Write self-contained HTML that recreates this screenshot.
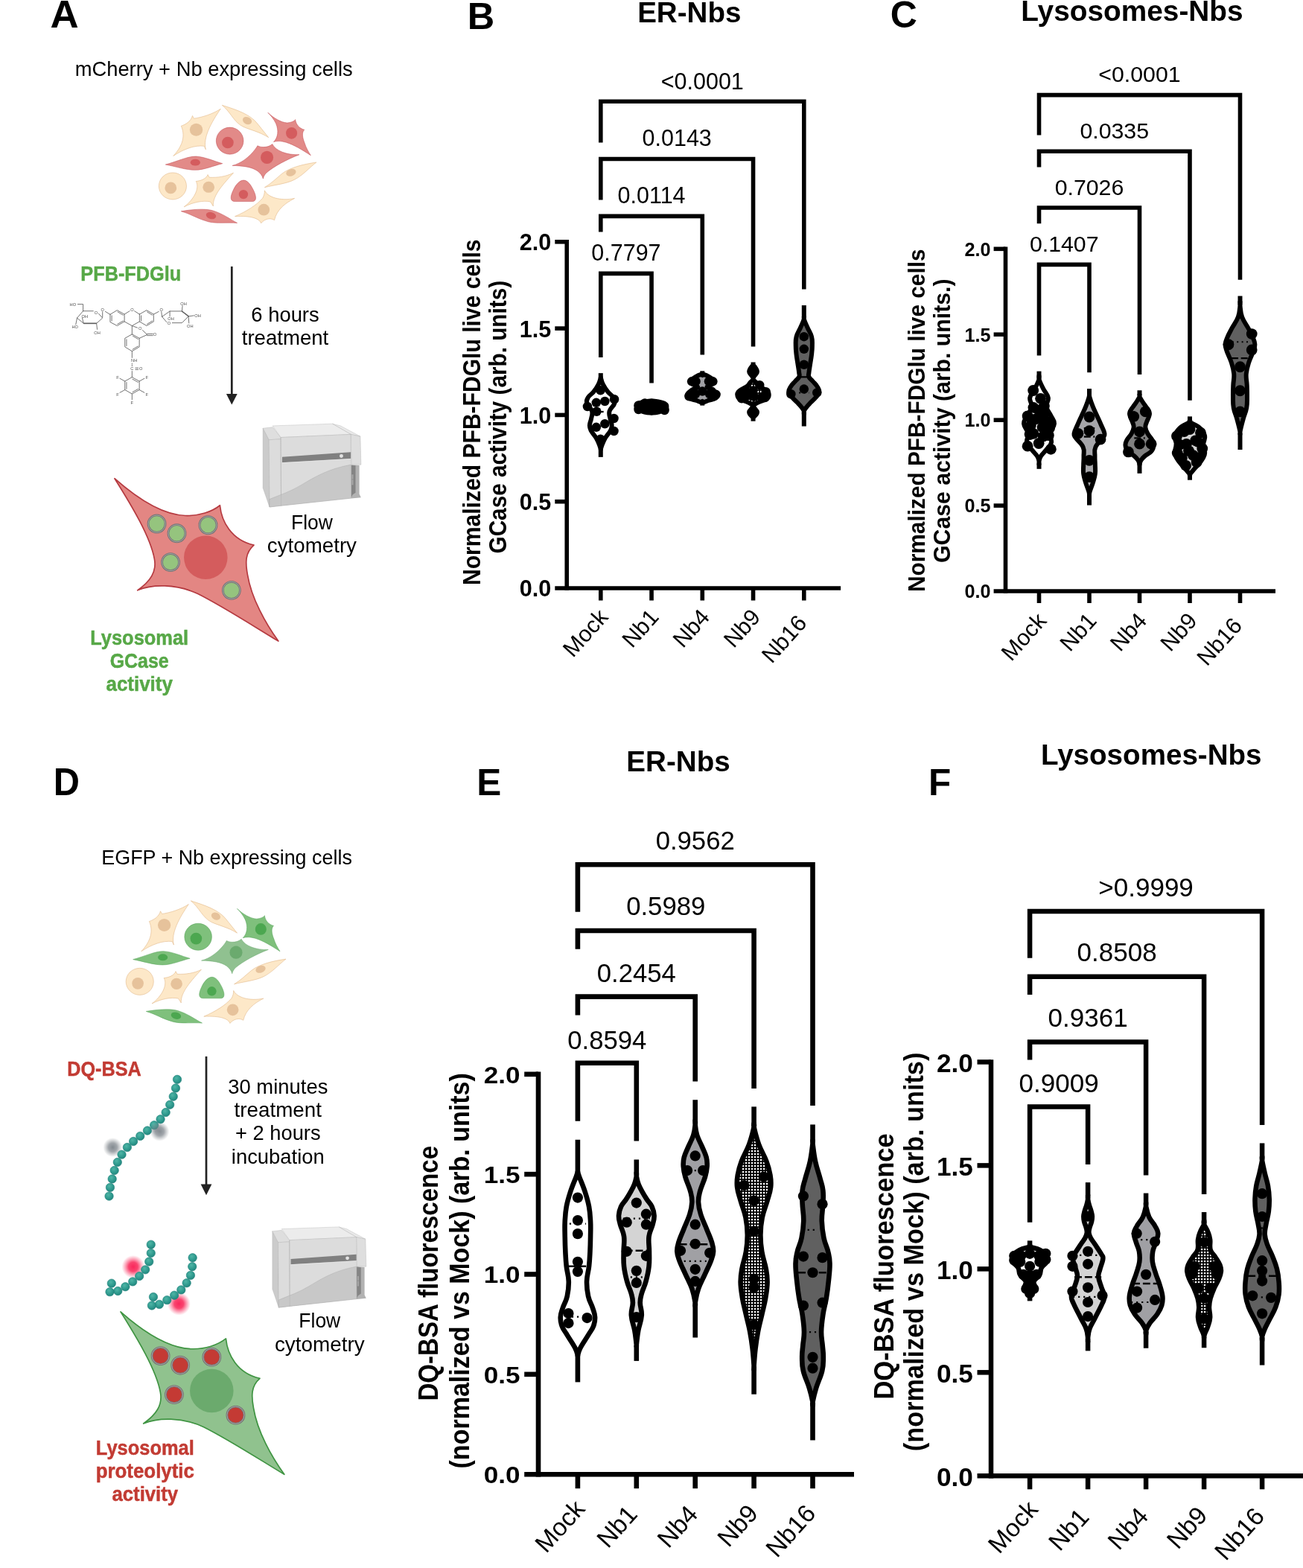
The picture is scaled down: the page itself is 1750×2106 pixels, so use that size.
<!DOCTYPE html>
<html lang="en"><head><meta charset="utf-8"><title>Figure</title>
<style>html,body{margin:0;padding:0;background:#fff}svg{display:block}text{white-space:pre}</style></head><body>
<svg width="1750" height="2106" viewBox="0 0 1750 2106">
<rect width="1750" height="2106" fill="#fff"/>
<defs>
<pattern id="grid" width="4" height="4" patternUnits="userSpaceOnUse"><rect width="4" height="4" fill="#000"/><rect x="0.9" y="0.9" width="2.3" height="2.3" fill="#fff"/></pattern>
</defs>
<g>
<path d="M761.25,322 V792.8" fill="none" stroke="#000" stroke-width="5.6"/>
<line x1="745.3" y1="790" x2="1129.1" y2="790" stroke="#000" stroke-width="5.6" />
<text x="740.3" y="801.4" font-family="'Liberation Sans', sans-serif" font-size="30.6" font-weight="bold" text-anchor="end">0.0</text>
<line x1="745.3" y1="673.7" x2="761.25" y2="673.7" stroke="#000" stroke-width="5.6" />
<text x="740.3" y="685.1" font-family="'Liberation Sans', sans-serif" font-size="30.6" font-weight="bold" text-anchor="end">0.5</text>
<line x1="745.3" y1="557.4" x2="761.25" y2="557.4" stroke="#000" stroke-width="5.6" />
<text x="740.3" y="568.8" font-family="'Liberation Sans', sans-serif" font-size="30.6" font-weight="bold" text-anchor="end">1.0</text>
<line x1="745.3" y1="441.1" x2="761.25" y2="441.1" stroke="#000" stroke-width="5.6" />
<text x="740.3" y="452.5" font-family="'Liberation Sans', sans-serif" font-size="30.6" font-weight="bold" text-anchor="end">1.5</text>
<line x1="745.3" y1="324.8" x2="761.25" y2="324.8" stroke="#000" stroke-width="5.6" />
<text x="740.3" y="336.2" font-family="'Liberation Sans', sans-serif" font-size="30.6" font-weight="bold" text-anchor="end">2.0</text>
<line x1="806.8" y1="790" x2="806.8" y2="806.5" stroke="#000" stroke-width="5.6" />
<line x1="875.05" y1="790" x2="875.05" y2="806.5" stroke="#000" stroke-width="5.6" />
<line x1="943.3" y1="790" x2="943.3" y2="806.5" stroke="#000" stroke-width="5.6" />
<line x1="1011.55" y1="790" x2="1011.55" y2="806.5" stroke="#000" stroke-width="5.6" />
<line x1="1079.8" y1="790" x2="1079.8" y2="806.5" stroke="#000" stroke-width="5.6" />
<text x="818.2" y="830" font-family="'Liberation Sans', sans-serif" font-size="30.5" text-anchor="end" transform="rotate(-48 818.2 830)">Mock</text>
<text x="886.45" y="830" font-family="'Liberation Sans', sans-serif" font-size="30.5" text-anchor="end" transform="rotate(-48 886.45 830)">Nb1</text>
<text x="954.7" y="830" font-family="'Liberation Sans', sans-serif" font-size="30.5" text-anchor="end" transform="rotate(-48 954.7 830)">Nb4</text>
<text x="1022.95" y="830" font-family="'Liberation Sans', sans-serif" font-size="30.5" text-anchor="end" transform="rotate(-48 1022.95 830)">Nb9</text>
<text x="1085.2" y="838" font-family="'Liberation Sans', sans-serif" font-size="30.5" text-anchor="end" transform="rotate(-48 1085.2 838)">Nb16</text>
<text x="644.7" y="553.7" font-family="'Liberation Sans', sans-serif" font-size="33.2" font-weight="bold" text-anchor="middle" transform="rotate(-90 644.7 553.7)" textLength="464.6" lengthAdjust="spacingAndGlyphs">Normalized PFB-FDGlu live cells</text>
<text x="680.3" y="560.2" font-family="'Liberation Sans', sans-serif" font-size="33.2" font-weight="bold" text-anchor="middle" transform="rotate(-90 680.3 560.2)" textLength="366.5" lengthAdjust="spacingAndGlyphs">GCase activity (arb. units)</text>
<text x="925.8" y="29.5" font-family="'Liberation Sans', sans-serif" font-size="38.6" font-weight="bold" text-anchor="middle">ER-Nbs</text>
<text x="627.8" y="38.8" font-family="'Liberation Sans', sans-serif" font-size="50.5" font-weight="bold">B</text>
<path d="M806.8,191.5 V136.3 H1079.8 V388.6" fill="none" stroke="#000" stroke-width="5.6" stroke-linejoin="miter"/>
<text x="943.3" y="120.4" font-family="'Liberation Sans', sans-serif" font-size="30.5" text-anchor="middle">&lt;0.0001</text>
<path d="M806.8,268.6 V213.5 H1011.55 V465.5" fill="none" stroke="#000" stroke-width="5.6" stroke-linejoin="miter"/>
<text x="909.17" y="196" font-family="'Liberation Sans', sans-serif" font-size="30.5" text-anchor="middle">0.0143</text>
<path d="M806.8,311.5 V290.4 H943.3 V476.5" fill="none" stroke="#000" stroke-width="5.6" stroke-linejoin="miter"/>
<text x="875.05" y="273" font-family="'Liberation Sans', sans-serif" font-size="30.5" text-anchor="middle">0.0114</text>
<path d="M806.8,479.9 V367.4 H875.05 V514.6" fill="none" stroke="#000" stroke-width="5.6" stroke-linejoin="miter"/>
<text x="840.92" y="350.1" font-family="'Liberation Sans', sans-serif" font-size="30.5" text-anchor="middle">0.7797</text>
<path d="M806.8,506.85 C807.42,508.76 807.78,512.06 809.78,516.1 C811.79,520.15 813.61,522.8 816.49,526.42 C819.37,530.04 821.9,530.44 823.71,533.64 C825.52,536.84 826.32,538.06 825.26,541.89 C824.19,545.73 819.72,547.95 818.55,552.21 C817.38,556.47 818.94,558.69 819.58,562.53 C820.22,566.36 821.54,567.58 821.65,570.78 C821.75,573.98 821.91,574.37 820.1,578 C818.29,581.62 815.33,584.05 812.88,588.31 C810.43,592.58 809.49,595.46 808.24,598.63 C806.98,601.8 807.1,602.6 806.8,603.63 L806.8,603.63 C806.5,602.6 806.62,601.8 805.36,598.63 C804.11,595.46 803.17,592.58 800.72,588.31 C798.27,584.05 795.31,581.62 793.5,578 C791.69,574.37 791.85,573.98 791.95,570.78 C792.06,567.58 793.38,566.36 794.02,562.53 C794.66,558.69 796.22,556.47 795.05,552.21 C793.88,547.95 789.41,545.73 788.34,541.89 C787.28,538.06 788.08,536.84 789.89,533.64 C791.7,530.44 794.23,530.04 797.11,526.42 C799.99,522.8 801.81,520.15 803.82,516.1 C805.82,512.06 806.18,508.76 806.8,506.85 Z" fill="#ffffff" stroke="#000" stroke-width="6" stroke-linejoin="round"/>
<line x1="806.8" y1="501.15" x2="806.8" y2="507.85" stroke="#000" stroke-width="6" />
<line x1="806.8" y1="602.63" x2="806.8" y2="613.9" stroke="#000" stroke-width="6" />
<line x1="801.64" y1="553.03" x2="811.96" y2="553.03" stroke="#000" stroke-width="2.3" stroke-dasharray="9 3.6"/>
<circle cx="806.49" cy="524.36" r="6.25"/>
<circle cx="800.82" cy="540.86" r="6.25"/>
<circle cx="812.37" cy="539.01" r="6.25"/>
<circle cx="825.06" cy="536.22" r="6.25"/>
<circle cx="788.95" cy="546.02" r="6.25"/>
<circle cx="801.33" cy="552.73" r="6.25"/>
<circle cx="824.54" cy="562.01" r="6.25"/>
<circle cx="812.37" cy="569.23" r="6.25"/>
<circle cx="800.82" cy="573.87" r="6.25"/>
<circle cx="824.54" cy="579.03" r="6.25"/>
<circle cx="806.49" cy="589.86" r="6.25"/>
<path d="M875.05,538.2 C876.91,538.47 880.23,538.61 884.05,539.5 C887.87,540.39 891.21,541.05 893.55,542.5 C895.89,543.95 895.35,544.85 895.35,546.5 C895.35,548.15 895.89,549.05 893.55,550.5 C891.21,551.95 887.87,552.61 884.05,553.5 C880.23,554.39 876.91,554.53 875.05,554.8 L875.05,554.8 C873.19,554.53 869.87,554.39 866.05,553.5 C862.23,552.61 858.89,551.95 856.55,550.5 C854.21,549.05 854.75,548.15 854.75,546.5 C854.75,544.85 854.21,543.95 856.55,542.5 C858.89,541.05 862.23,540.39 866.05,539.5 C869.87,538.61 873.19,538.47 875.05,538.2 Z" fill="#d4d4d4" stroke="#000" stroke-width="6" stroke-linejoin="round"/>
<circle cx="857.55" cy="544.5" r="6.25"/>
<circle cx="866.05" cy="541.5" r="6.25"/>
<circle cx="875.05" cy="542.5" r="6.25"/>
<circle cx="883.05" cy="543.5" r="6.25"/>
<circle cx="891.55" cy="546" r="6.25"/>
<circle cx="892.55" cy="551" r="6.25"/>
<circle cx="883.05" cy="550" r="6.25"/>
<circle cx="875.05" cy="551" r="6.25"/>
<circle cx="866.05" cy="550" r="6.25"/>
<circle cx="857.55" cy="550" r="6.25"/>
<path d="M943.3,503.99 C943.55,503.73 942.57,502.26 944.51,502.74 C946.45,503.23 949.51,504.36 952.69,506.35 C955.88,508.34 959.54,510.13 959.91,512.37 C960.29,514.61 956.61,515.57 954.5,517.18 C952.39,518.8 948.94,518.7 949.69,520.19 C950.43,521.68 955.18,522.29 958.11,524.4 C961.04,526.52 963.39,528.18 963.89,530.42 C964.38,532.66 962.95,533.74 960.52,535.23 C958.08,536.73 955.45,536.52 952.09,537.64 C948.74,538.76 946.09,540.39 944.27,540.65 C942.45,540.91 943.5,539.28 943.3,538.92 L943.3,538.92 C943.1,539.28 944.15,540.91 942.33,540.65 C940.51,540.39 937.86,538.76 934.51,537.64 C931.15,536.52 928.52,536.73 926.08,535.23 C923.65,533.74 922.22,532.66 922.71,530.42 C923.21,528.18 925.56,526.52 928.49,524.4 C931.42,522.29 936.17,521.68 936.91,520.19 C937.66,518.7 934.21,518.8 932.1,517.18 C929.99,515.57 926.31,514.61 926.69,512.37 C927.06,510.13 930.72,508.34 933.91,506.35 C937.09,504.36 940.15,503.23 942.09,502.74 C944.03,502.26 943.05,503.73 943.3,503.99 Z" fill="#a0a0a4" stroke="#000" stroke-width="6" stroke-linejoin="round"/>
<line x1="943.3" y1="498.29" x2="943.3" y2="504.99" stroke="#000" stroke-width="6" />
<line x1="943.3" y1="537.92" x2="943.3" y2="544.62" stroke="#000" stroke-width="6" />
<circle cx="943.3" cy="525.61" r="6.25"/>
<circle cx="925.49" cy="532.23" r="6.25"/>
<circle cx="961.59" cy="529.82" r="6.25"/>
<circle cx="929.1" cy="512.37" r="6.25"/>
<circle cx="957.38" cy="512.37" r="6.25"/>
<circle cx="934.52" cy="512.13" r="6.25"/>
<circle cx="951.96" cy="512.13" r="6.25"/>
<circle cx="933.91" cy="529.22" r="6.25"/>
<circle cx="953.17" cy="529.22" r="6.25"/>
<circle cx="931.51" cy="526.21" r="6.25"/>
<circle cx="955.57" cy="525.61" r="6.25"/>
<path d="M1011.55,492.2 C1011.88,492.14 1012,490.48 1013.12,491.91 C1014.24,493.35 1016.97,496.4 1016.97,499.13 C1016.97,501.87 1014.24,503.04 1013.12,505.15 C1012,507.26 1011.06,507.62 1011.56,509.36 C1012.06,511.1 1013.96,511.71 1015.53,513.57 C1017.1,515.44 1016.65,516.4 1019.14,518.39 C1021.63,520.38 1024.83,521.21 1027.56,523.2 C1030.3,525.19 1031.75,525.53 1032.38,528.01 C1033,530.5 1033.31,532.75 1030.57,535.23 C1027.84,537.72 1022.94,537.93 1019.14,540.05 C1015.33,542.16 1012.61,542.73 1012.16,545.46 C1011.71,548.2 1016.77,550.43 1016.97,553.29 C1017.17,556.15 1014.24,557.92 1013.12,559.3 C1012,560.69 1011.88,559.84 1011.55,559.98 L1011.55,559.98 C1011.22,559.84 1011.1,560.69 1009.98,559.3 C1008.86,557.92 1005.93,556.15 1006.13,553.29 C1006.33,550.43 1011.39,548.2 1010.94,545.46 C1010.49,542.73 1007.77,542.16 1003.96,540.05 C1000.16,537.93 995.26,537.72 992.53,535.23 C989.79,532.75 990.1,530.5 990.72,528.01 C991.35,525.53 992.8,525.19 995.54,523.2 C998.27,521.21 1001.47,520.38 1003.96,518.39 C1006.45,516.4 1006,515.44 1007.57,513.57 C1009.14,511.71 1011.04,511.1 1011.54,509.36 C1012.04,507.62 1011.1,507.26 1009.98,505.15 C1008.86,503.04 1006.13,501.87 1006.13,499.13 C1006.13,496.4 1008.86,493.35 1009.98,491.91 C1011.1,490.48 1011.22,492.14 1011.55,492.2 Z" fill="url(#grid)" stroke="#000" stroke-width="6" stroke-linejoin="round"/>
<line x1="1011.55" y1="486.5" x2="1011.55" y2="493.2" stroke="#000" stroke-width="6" />
<line x1="1011.55" y1="558.98" x2="1011.55" y2="565.68" stroke="#000" stroke-width="6" />
<circle cx="1011.55" cy="499.13" r="6.25"/>
<circle cx="1020.21" cy="517.18" r="6.25"/>
<circle cx="1028.64" cy="526.21" r="6.25"/>
<circle cx="993.74" cy="529.22" r="6.25"/>
<circle cx="1003.37" cy="531.62" r="6.25"/>
<circle cx="1012.99" cy="532.83" r="6.25"/>
<circle cx="1022.62" cy="534.03" r="6.25"/>
<circle cx="1011.55" cy="524.4" r="6.25"/>
<circle cx="1000.96" cy="524.4" r="6.25"/>
<circle cx="1011.55" cy="553.29" r="6.25"/>
<circle cx="996.15" cy="535.23" r="6.25"/>
<circle cx="1027.43" cy="534.03" r="6.25"/>
<path d="M1079.8,425.54 C1079.93,426.57 1079.41,427.52 1080.41,430.54 C1081.41,433.56 1082.63,435.69 1084.62,440.17 C1086.61,444.65 1088.74,447.23 1090.04,452.2 C1091.33,457.18 1090.88,459.26 1090.88,464.24 C1090.88,469.21 1090.58,471.3 1090.04,476.27 C1089.49,481.24 1088.98,483.33 1088.23,488.3 C1087.49,493.28 1086.8,496.61 1086.43,500.34 C1086.05,504.07 1085.31,503.87 1086.43,506.35 C1087.55,508.84 1089.48,509.63 1091.84,512.37 C1094.2,515.11 1096.12,516.48 1097.86,519.59 C1099.6,522.7 1101.01,524.18 1100.27,527.41 C1099.52,530.65 1096.98,532.13 1094.25,535.23 C1091.51,538.34 1089.89,539.22 1087.03,542.45 C1084.17,545.69 1081.9,548.1 1080.41,550.88 C1078.92,553.65 1079.93,554.85 1079.8,555.88 L1079.8,555.88 C1079.67,554.85 1080.68,553.65 1079.19,550.88 C1077.7,548.1 1075.43,545.69 1072.57,542.45 C1069.71,539.22 1068.09,538.34 1065.35,535.23 C1062.62,532.13 1060.08,530.65 1059.33,527.41 C1058.59,524.18 1060,522.7 1061.74,519.59 C1063.48,516.48 1065.4,515.11 1067.76,512.37 C1070.12,509.63 1072.05,508.84 1073.17,506.35 C1074.29,503.87 1073.55,504.07 1073.17,500.34 C1072.8,496.61 1072.11,493.28 1071.37,488.3 C1070.62,483.33 1070.11,481.24 1069.56,476.27 C1069.02,471.3 1068.72,469.21 1068.72,464.24 C1068.72,459.26 1068.27,457.18 1069.56,452.2 C1070.86,447.23 1072.99,444.65 1074.98,440.17 C1076.97,435.69 1078.19,433.56 1079.19,430.54 C1080.19,427.52 1079.67,426.57 1079.8,425.54 Z" fill="#606060" stroke="#000" stroke-width="6" stroke-linejoin="round"/>
<line x1="1079.8" y1="410.08" x2="1079.8" y2="426.54" stroke="#000" stroke-width="6" />
<line x1="1079.8" y1="554.88" x2="1079.8" y2="572.54" stroke="#000" stroke-width="6" />
<line x1="1073.18" y1="527.41" x2="1086.42" y2="527.41" stroke="#000" stroke-width="2" stroke-dasharray="2 4.4"/>
<line x1="1074.99" y1="506.35" x2="1084.61" y2="506.35" stroke="#000" stroke-width="2.3" stroke-dasharray="9 3.6"/>
<circle cx="1079.8" cy="452.2" r="6.25"/>
<circle cx="1079.8" cy="468.81" r="6.25"/>
<circle cx="1079.8" cy="489.75" r="6.25"/>
<circle cx="1079.8" cy="522.6" r="6.25"/>
<circle cx="1062.35" cy="529.22" r="6.25"/>
<circle cx="1097.25" cy="527.41" r="6.25"/>
</g>
<g>
<path d="M1350.5,331.5 V796.8" fill="none" stroke="#000" stroke-width="5.6"/>
<line x1="1334.6" y1="794" x2="1713" y2="794" stroke="#000" stroke-width="5.6" />
<text x="1330.5" y="803.3" font-family="'Liberation Sans', sans-serif" font-size="25.2" font-weight="bold" text-anchor="end">0.0</text>
<line x1="1334.6" y1="679.08" x2="1350.5" y2="679.08" stroke="#000" stroke-width="5.6" />
<text x="1330.5" y="688.38" font-family="'Liberation Sans', sans-serif" font-size="25.2" font-weight="bold" text-anchor="end">0.5</text>
<line x1="1334.6" y1="564.15" x2="1350.5" y2="564.15" stroke="#000" stroke-width="5.6" />
<text x="1330.5" y="573.45" font-family="'Liberation Sans', sans-serif" font-size="25.2" font-weight="bold" text-anchor="end">1.0</text>
<line x1="1334.6" y1="449.23" x2="1350.5" y2="449.23" stroke="#000" stroke-width="5.6" />
<text x="1330.5" y="458.53" font-family="'Liberation Sans', sans-serif" font-size="25.2" font-weight="bold" text-anchor="end">1.5</text>
<line x1="1334.6" y1="334.3" x2="1350.5" y2="334.3" stroke="#000" stroke-width="5.6" />
<text x="1330.5" y="343.6" font-family="'Liberation Sans', sans-serif" font-size="25.2" font-weight="bold" text-anchor="end">2.0</text>
<line x1="1395.5" y1="794" x2="1395.5" y2="810" stroke="#000" stroke-width="5.6" />
<line x1="1463" y1="794" x2="1463" y2="810" stroke="#000" stroke-width="5.6" />
<line x1="1530.5" y1="794" x2="1530.5" y2="810" stroke="#000" stroke-width="5.6" />
<line x1="1598" y1="794" x2="1598" y2="810" stroke="#000" stroke-width="5.6" />
<line x1="1665.5" y1="794" x2="1665.5" y2="810" stroke="#000" stroke-width="5.6" />
<text x="1406.9" y="835" font-family="'Liberation Sans', sans-serif" font-size="30.5" text-anchor="end" transform="rotate(-48 1406.9 835)">Mock</text>
<text x="1474.4" y="835" font-family="'Liberation Sans', sans-serif" font-size="30.5" text-anchor="end" transform="rotate(-48 1474.4 835)">Nb1</text>
<text x="1541.9" y="835" font-family="'Liberation Sans', sans-serif" font-size="30.5" text-anchor="end" transform="rotate(-48 1541.9 835)">Nb4</text>
<text x="1609.4" y="835" font-family="'Liberation Sans', sans-serif" font-size="30.5" text-anchor="end" transform="rotate(-48 1609.4 835)">Nb9</text>
<text x="1669.9" y="841.5" font-family="'Liberation Sans', sans-serif" font-size="30.5" text-anchor="end" transform="rotate(-48 1669.9 841.5)">Nb16</text>
<text x="1241.7" y="564.7" font-family="'Liberation Sans', sans-serif" font-size="30.8" font-weight="bold" text-anchor="middle" transform="rotate(-90 1241.7 564.7)" textLength="460.6" lengthAdjust="spacingAndGlyphs">Normalized PFB-FDGlu live cells</text>
<text x="1276" y="565.2" font-family="'Liberation Sans', sans-serif" font-size="30.8" font-weight="bold" text-anchor="middle" transform="rotate(-90 1276 565.2)" textLength="381.5" lengthAdjust="spacingAndGlyphs">GCase activity (arb. units.)</text>
<text x="1520.5" y="27.8" font-family="'Liberation Sans', sans-serif" font-size="38.8" font-weight="bold" text-anchor="middle">Lysosomes-Nbs</text>
<text x="1195.8" y="37.2" font-family="'Liberation Sans', sans-serif" font-size="50" font-weight="bold">C</text>
<path d="M1395.5,181.6 V127.6 H1665.5 V375.8" fill="none" stroke="#000" stroke-width="5.6" stroke-linejoin="miter"/>
<text x="1530.5" y="110" font-family="'Liberation Sans', sans-serif" font-size="30.3" text-anchor="middle">&lt;0.0001</text>
<path d="M1395.5,224.5 V203.2 H1598 V537.7" fill="none" stroke="#000" stroke-width="5.6" stroke-linejoin="miter"/>
<text x="1496.75" y="185.7" font-family="'Liberation Sans', sans-serif" font-size="30.3" text-anchor="middle">0.0335</text>
<path d="M1395.5,300.2 V279 H1530.5 V503" fill="none" stroke="#000" stroke-width="5.6" stroke-linejoin="miter"/>
<text x="1463" y="262" font-family="'Liberation Sans', sans-serif" font-size="30.3" text-anchor="middle">0.7026</text>
<path d="M1395.5,477.5 V355.4 H1463 V500.2" fill="none" stroke="#000" stroke-width="5.6" stroke-linejoin="miter"/>
<text x="1429.25" y="338.1" font-family="'Liberation Sans', sans-serif" font-size="30.3" text-anchor="middle">0.1407</text>
<path d="M1395.5,505.08 C1395.55,506.12 1394.58,506.56 1395.75,510.08 C1396.92,513.6 1398.68,517.14 1401.16,522.12 C1403.65,527.09 1406.91,529.18 1407.78,534.15 C1408.65,539.13 1404.63,541.21 1405.38,546.19 C1406.12,551.16 1409.2,553.49 1411.39,558.22 C1413.58,562.94 1416.21,564.08 1415.97,569.05 C1415.72,574.02 1411.01,577.06 1410.19,582.29 C1409.37,587.51 1412.99,589.84 1411.99,594.32 C1411,598.8 1408.24,600.22 1405.38,603.95 C1402.52,607.68 1400.15,609.39 1398.16,612.37 C1396.17,615.35 1396.3,616.11 1395.75,618.39 C1395.2,620.66 1395.55,622.35 1395.5,623.39 L1395.5,623.39 C1395.45,622.35 1395.8,620.66 1395.25,618.39 C1394.7,616.11 1394.83,615.35 1392.84,612.37 C1390.85,609.39 1388.48,607.68 1385.62,603.95 C1382.76,600.22 1380,598.8 1379.01,594.32 C1378.01,589.84 1381.63,587.51 1380.81,582.29 C1379.99,577.06 1375.28,574.02 1375.03,569.05 C1374.79,564.08 1377.42,562.94 1379.61,558.22 C1381.8,553.49 1384.88,551.16 1385.62,546.19 C1386.37,541.21 1382.35,539.13 1383.22,534.15 C1384.09,529.18 1387.35,527.09 1389.84,522.12 C1392.32,517.14 1394.08,513.6 1395.25,510.08 C1396.42,506.56 1395.45,506.12 1395.5,505.08 Z" fill="#ffffff" stroke="#000" stroke-width="6" stroke-linejoin="round"/>
<line x1="1395.5" y1="498.65" x2="1395.5" y2="506.08" stroke="#000" stroke-width="6" />
<line x1="1395.5" y1="622.39" x2="1395.5" y2="629.82" stroke="#000" stroke-width="6" />
<circle cx="1387.68" cy="524.52" r="7.4"/>
<circle cx="1397.55" cy="535.35" r="7.4"/>
<circle cx="1395.14" cy="551" r="7.4"/>
<circle cx="1380.1" cy="558.82" r="7.4"/>
<circle cx="1407.17" cy="566.64" r="7.4"/>
<circle cx="1384.31" cy="571.46" r="7.4"/>
<circle cx="1399.95" cy="573.86" r="7.4"/>
<circle cx="1387.92" cy="582.29" r="7.4"/>
<circle cx="1408.38" cy="584.69" r="7.4"/>
<circle cx="1395.14" cy="595.52" r="7.4"/>
<circle cx="1380.1" cy="599.13" r="7.4"/>
<circle cx="1411.38" cy="603.35" r="7.4"/>
<circle cx="1396.34" cy="561.83" r="7.4"/>
<circle cx="1403.56" cy="554.61" r="7.4"/>
<circle cx="1387.92" cy="547.39" r="7.4"/>
<circle cx="1402.36" cy="545.58" r="7.4"/>
<circle cx="1390.33" cy="563.03" r="7.4"/>
<circle cx="1409.58" cy="575.07" r="7.4"/>
<circle cx="1383.11" cy="583.49" r="7.4"/>
<circle cx="1401.16" cy="585.9" r="7.4"/>
<path d="M1463,529.15 C1463.13,530.18 1462.61,530.63 1463.61,534.15 C1464.61,537.67 1465.83,541.21 1467.82,546.19 C1469.81,551.16 1471,553.25 1473.24,558.22 C1475.48,563.19 1476.54,565.28 1478.65,570.25 C1480.77,575.23 1482.97,578.56 1483.47,582.29 C1483.96,586.02 1483.55,584.57 1481.06,588.3 C1478.57,592.03 1473.62,595.36 1471.43,600.34 C1469.24,605.31 1470.59,607.4 1470.47,612.37 C1470.34,617.34 1470.76,619.43 1470.83,624.4 C1470.9,629.38 1471.45,631.46 1470.83,636.44 C1470.21,641.41 1469.31,643.5 1467.82,648.47 C1466.33,653.45 1464.61,656.99 1463.61,660.51 C1462.61,664.03 1463.13,664.47 1463,665.51 L1463,665.51 C1462.87,664.47 1463.39,664.03 1462.39,660.51 C1461.39,656.99 1459.67,653.45 1458.18,648.47 C1456.69,643.5 1455.79,641.41 1455.17,636.44 C1454.55,631.46 1455.1,629.38 1455.17,624.4 C1455.24,619.43 1455.66,617.34 1455.53,612.37 C1455.41,607.4 1456.76,605.31 1454.57,600.34 C1452.38,595.36 1447.43,592.03 1444.94,588.3 C1442.45,584.57 1442.04,586.02 1442.53,582.29 C1443.03,578.56 1445.23,575.23 1447.35,570.25 C1449.46,565.28 1450.52,563.19 1452.76,558.22 C1455,553.25 1456.19,551.16 1458.18,546.19 C1460.17,541.21 1461.39,537.67 1462.39,534.15 C1463.39,530.63 1462.87,530.18 1463,529.15 Z" fill="#a6a6aa" stroke="#000" stroke-width="6" stroke-linejoin="round"/>
<line x1="1463" y1="522.12" x2="1463" y2="530.15" stroke="#000" stroke-width="6" />
<line x1="1463" y1="664.51" x2="1463" y2="678.56" stroke="#000" stroke-width="6" />
<line x1="1455.78" y1="575.07" x2="1470.22" y2="575.07" stroke="#000" stroke-width="2" stroke-dasharray="2 4.4"/>
<line x1="1455.78" y1="586.5" x2="1470.22" y2="586.5" stroke="#000" stroke-width="2.3" stroke-dasharray="9 3.6"/>
<circle cx="1463" cy="560.02" r="7.4"/>
<circle cx="1463" cy="578.68" r="7.4"/>
<circle cx="1447.96" cy="582.29" r="7.4"/>
<circle cx="1478.04" cy="590.11" r="7.4"/>
<circle cx="1463" cy="618.39" r="7.4"/>
<circle cx="1463" cy="640.65" r="7.4"/>
<path d="M1530.5,529.98 C1530.63,530.85 1529.86,531.55 1531.11,534.15 C1532.36,536.75 1534.04,538.84 1536.53,542.58 C1539.01,546.31 1541.7,548.97 1543.14,552.2 C1544.59,555.44 1544.13,555.23 1543.5,558.22 C1542.88,561.2 1541.2,563.41 1540.14,566.64 C1539.07,569.88 1538.08,570.63 1538.33,573.86 C1538.58,577.1 1539.47,578.8 1541.34,582.29 C1543.2,585.77 1545.66,587.48 1547.36,590.71 C1549.05,593.94 1549.77,594.7 1549.52,597.93 C1549.27,601.16 1548.59,603.37 1546.15,606.35 C1543.72,609.34 1540.59,609.88 1537.73,612.37 C1534.87,614.86 1533.81,615.94 1532.31,618.39 C1530.82,620.83 1530.87,622.99 1530.5,624.19 L1530.5,624.19 C1530.13,622.99 1530.18,620.83 1528.69,618.39 C1527.19,615.94 1526.13,614.86 1523.27,612.37 C1520.41,609.88 1517.28,609.34 1514.85,606.35 C1512.41,603.37 1511.73,601.16 1511.48,597.93 C1511.23,594.7 1511.95,593.94 1513.64,590.71 C1515.34,587.48 1517.8,585.77 1519.66,582.29 C1521.53,578.8 1522.42,577.1 1522.67,573.86 C1522.92,570.63 1521.93,569.88 1520.86,566.64 C1519.8,563.41 1518.12,561.2 1517.5,558.22 C1516.87,555.23 1516.41,555.44 1517.86,552.2 C1519.3,548.97 1521.99,546.31 1524.47,542.58 C1526.96,538.84 1528.64,536.75 1529.89,534.15 C1531.14,531.55 1530.37,530.85 1530.5,529.98 Z" fill="#808080" stroke="#000" stroke-width="6" stroke-linejoin="round"/>
<line x1="1530.5" y1="524.28" x2="1530.5" y2="530.98" stroke="#000" stroke-width="6" />
<line x1="1530.5" y1="623.19" x2="1530.5" y2="635.84" stroke="#000" stroke-width="6" />
<line x1="1523.28" y1="588.3" x2="1537.72" y2="588.3" stroke="#000" stroke-width="2.3" stroke-dasharray="9 3.6"/>
<circle cx="1538.32" cy="552.8" r="7.4"/>
<circle cx="1522.68" cy="559.42" r="7.4"/>
<circle cx="1530.5" cy="579.88" r="7.4"/>
<circle cx="1530.5" cy="596.13" r="7.4"/>
<circle cx="1546.14" cy="596.13" r="7.4"/>
<circle cx="1515.46" cy="606.96" r="7.4"/>
<path d="M1598,565.07 C1598.17,565.56 1595.97,565.38 1598.81,567.44 C1601.65,569.51 1607.76,571.28 1611.76,575.06 C1615.76,578.84 1617.22,581.32 1618.16,585.73 C1619.11,590.14 1616.33,591.67 1616.33,596.4 C1616.33,601.12 1618.42,604.49 1618.16,608.59 C1617.91,612.68 1616.91,613.06 1615.12,616.21 C1613.32,619.36 1612.06,620.68 1609.48,623.83 C1606.89,626.98 1604.92,628.77 1602.62,631.45 C1600.32,634.12 1599.31,635.22 1598.35,636.78 C1597.4,638.34 1598.07,638.55 1598,639.01 L1598,639.01 C1597.93,638.55 1598.6,638.34 1597.65,636.78 C1596.69,635.22 1595.68,634.12 1593.38,631.45 C1591.08,628.77 1589.11,626.98 1586.52,623.83 C1583.94,620.68 1582.68,619.36 1580.88,616.21 C1579.09,613.06 1578.09,612.68 1577.84,608.59 C1577.58,604.49 1579.67,601.12 1579.67,596.4 C1579.67,591.67 1576.89,590.14 1577.84,585.73 C1578.78,581.32 1580.24,578.84 1584.24,575.06 C1588.24,571.28 1594.35,569.51 1597.19,567.44 C1600.03,565.38 1597.83,565.56 1598,565.07 Z" fill="#d4d4d4" stroke="#000" stroke-width="6" stroke-linejoin="round"/>
<line x1="1598" y1="559.37" x2="1598" y2="566.07" stroke="#000" stroke-width="6" />
<line x1="1598" y1="638.01" x2="1598" y2="644.71" stroke="#000" stroke-width="6" />
<circle cx="1580.47" cy="585.73" r="7.4"/>
<circle cx="1612.48" cy="581.16" r="7.4"/>
<circle cx="1593.43" cy="596.4" r="7.4"/>
<circle cx="1605.62" cy="591.83" r="7.4"/>
<circle cx="1581.24" cy="608.59" r="7.4"/>
<circle cx="1614.76" cy="602.49" r="7.4"/>
<circle cx="1602.57" cy="611.64" r="7.4"/>
<circle cx="1592.67" cy="625.35" r="7.4"/>
<circle cx="1598" cy="576.59" r="7.4"/>
<circle cx="1587.33" cy="615.45" r="7.4"/>
<circle cx="1610.19" cy="614.68" r="7.4"/>
<circle cx="1590.38" cy="579.63" r="7.4"/>
<circle cx="1608.67" cy="593.35" r="7.4"/>
<circle cx="1584.28" cy="597.16" r="7.4"/>
<circle cx="1596.48" cy="605.54" r="7.4"/>
<circle cx="1607.14" cy="620.78" r="7.4"/>
<path d="M1665.5,405.48 C1665.5,406.51 1664.95,406.3 1665.5,410.48 C1666.05,414.66 1665.86,419.42 1668.14,425.72 C1670.42,432.02 1673.53,435.29 1676.52,440.96 C1679.51,446.63 1680.79,448.74 1682.62,453.15 C1684.44,457.56 1685.2,458.51 1685.36,462.29 C1685.52,466.07 1685.05,466.4 1683.38,471.44 C1681.71,476.47 1679.27,480.38 1677.28,486.67 C1675.3,492.97 1674.31,495.62 1673.78,501.91 C1673.24,508.21 1674.44,510.85 1674.69,517.15 C1674.94,523.45 1675.09,526.09 1675,532.39 C1674.9,538.69 1675.34,541.33 1674.23,547.63 C1673.13,553.93 1671.39,556.57 1669.66,562.87 C1667.93,569.17 1666.71,573.93 1665.85,578.11 C1664.99,582.29 1665.57,582.08 1665.5,583.11 L1665.5,583.11 C1665.43,582.08 1666.01,582.29 1665.15,578.11 C1664.29,573.93 1663.07,569.17 1661.34,562.87 C1659.61,556.57 1657.87,553.93 1656.77,547.63 C1655.66,541.33 1656.1,538.69 1656,532.39 C1655.91,526.09 1656.06,523.45 1656.31,517.15 C1656.56,510.85 1657.76,508.21 1657.22,501.91 C1656.69,495.62 1655.7,492.97 1653.72,486.67 C1651.73,480.38 1649.29,476.47 1647.62,471.44 C1645.95,466.4 1645.48,466.07 1645.64,462.29 C1645.8,458.51 1646.56,457.56 1648.38,453.15 C1650.21,448.74 1651.49,446.63 1654.48,440.96 C1657.47,435.29 1660.58,432.02 1662.86,425.72 C1665.14,419.42 1664.95,414.66 1665.5,410.48 C1666.05,406.3 1665.5,406.51 1665.5,405.48 Z" fill="#606060" stroke="#000" stroke-width="6" stroke-linejoin="round"/>
<line x1="1665.5" y1="397.53" x2="1665.5" y2="406.48" stroke="#000" stroke-width="6" />
<line x1="1665.5" y1="582.11" x2="1665.5" y2="604.02" stroke="#000" stroke-width="6" />
<line x1="1654.83" y1="459.24" x2="1676.17" y2="459.24" stroke="#000" stroke-width="2" stroke-dasharray="2 4.4"/>
<line x1="1654.07" y1="481.04" x2="1676.93" y2="481.04" stroke="#000" stroke-width="2.3" stroke-dasharray="9 3.6"/>
<circle cx="1681.2" cy="448.58" r="7.4"/>
<circle cx="1649.96" cy="462.75" r="7.4"/>
<circle cx="1681.2" cy="469.91" r="7.4"/>
<circle cx="1665.5" cy="492.77" r="7.4"/>
<circle cx="1665.5" cy="524.77" r="7.4"/>
<circle cx="1665.5" cy="552.97" r="7.4"/>
</g>
<g>
<path d="M723,1439.5 V1983.5" fill="none" stroke="#000" stroke-width="6.6"/>
<line x1="704.2" y1="1980.2" x2="1147" y2="1980.2" stroke="#000" stroke-width="6.6" />
<text x="698.6" y="1992" font-family="'Liberation Sans', sans-serif" font-size="30.7" font-weight="bold" text-anchor="end" textLength="48.8" lengthAdjust="spacingAndGlyphs">0.0</text>
<line x1="704.2" y1="1845.85" x2="723" y2="1845.85" stroke="#000" stroke-width="6.6" />
<text x="698.6" y="1857.65" font-family="'Liberation Sans', sans-serif" font-size="30.7" font-weight="bold" text-anchor="end" textLength="48.8" lengthAdjust="spacingAndGlyphs">0.5</text>
<line x1="704.2" y1="1711.5" x2="723" y2="1711.5" stroke="#000" stroke-width="6.6" />
<text x="698.6" y="1723.3" font-family="'Liberation Sans', sans-serif" font-size="30.7" font-weight="bold" text-anchor="end" textLength="48.8" lengthAdjust="spacingAndGlyphs">1.0</text>
<line x1="704.2" y1="1577.15" x2="723" y2="1577.15" stroke="#000" stroke-width="6.6" />
<text x="698.6" y="1588.95" font-family="'Liberation Sans', sans-serif" font-size="30.7" font-weight="bold" text-anchor="end" textLength="48.8" lengthAdjust="spacingAndGlyphs">1.5</text>
<line x1="704.2" y1="1442.8" x2="723" y2="1442.8" stroke="#000" stroke-width="6.6" />
<text x="698.6" y="1454.6" font-family="'Liberation Sans', sans-serif" font-size="30.7" font-weight="bold" text-anchor="end" textLength="48.8" lengthAdjust="spacingAndGlyphs">2.0</text>
<line x1="775.9" y1="1980.2" x2="775.9" y2="1999.2" stroke="#000" stroke-width="6.6" />
<line x1="854.8" y1="1980.2" x2="854.8" y2="1999.2" stroke="#000" stroke-width="6.6" />
<line x1="933.7" y1="1980.2" x2="933.7" y2="1999.2" stroke="#000" stroke-width="6.6" />
<line x1="1012.6" y1="1980.2" x2="1012.6" y2="1999.2" stroke="#000" stroke-width="6.6" />
<line x1="1091.5" y1="1980.2" x2="1091.5" y2="1999.2" stroke="#000" stroke-width="6.6" />
<text x="787.2" y="2027.7" font-family="'Liberation Sans', sans-serif" font-size="33.6" text-anchor="end" transform="rotate(-48 787.2 2027.7)">Mock</text>
<text x="857.8" y="2035" font-family="'Liberation Sans', sans-serif" font-size="33.6" text-anchor="end" transform="rotate(-48 857.8 2035)">Nb1</text>
<text x="938.9" y="2035" font-family="'Liberation Sans', sans-serif" font-size="33.6" text-anchor="end" transform="rotate(-48 938.9 2035)">Nb4</text>
<text x="1019.7" y="2033.8" font-family="'Liberation Sans', sans-serif" font-size="33.6" text-anchor="end" transform="rotate(-48 1019.7 2033.8)">Nb9</text>
<text x="1097.2" y="2033.8" font-family="'Liberation Sans', sans-serif" font-size="33.6" text-anchor="end" transform="rotate(-48 1097.2 2033.8)">Nb16</text>
<text x="588.3" y="1710.2" font-family="'Liberation Sans', sans-serif" font-size="36.6" font-weight="bold" text-anchor="middle" transform="rotate(-90 588.3 1710.2)" textLength="342.7" lengthAdjust="spacingAndGlyphs">DQ-BSA fluorescence</text>
<text x="629.6" y="1706.8" font-family="'Liberation Sans', sans-serif" font-size="36.6" font-weight="bold" text-anchor="middle" transform="rotate(-90 629.6 1706.8)" textLength="531.3" lengthAdjust="spacingAndGlyphs">(normalized vs Mock) (arb. units)</text>
<text x="911" y="1035.8" font-family="'Liberation Sans', sans-serif" font-size="38.6" font-weight="bold" text-anchor="middle">ER-Nbs</text>
<text x="640.2" y="1068" font-family="'Liberation Sans', sans-serif" font-size="49.5" font-weight="bold">E</text>
<path d="M775.9,1224.8 V1161.2 H1091.5 V1484.9" fill="none" stroke="#000" stroke-width="6.6" stroke-linejoin="miter"/>
<text x="933.7" y="1140.9" font-family="'Liberation Sans', sans-serif" font-size="34.7" text-anchor="middle">0.9562</text>
<path d="M775.9,1274.7 V1250 H1012.6 V1461.9" fill="none" stroke="#000" stroke-width="6.6" stroke-linejoin="miter"/>
<text x="894.25" y="1229.3" font-family="'Liberation Sans', sans-serif" font-size="34.7" text-anchor="middle">0.5989</text>
<path d="M775.9,1363.4 V1338.6 H933.7 V1452.5" fill="none" stroke="#000" stroke-width="6.6" stroke-linejoin="miter"/>
<text x="854.8" y="1318.7" font-family="'Liberation Sans', sans-serif" font-size="34.7" text-anchor="middle">0.2454</text>
<path d="M775.9,1505.7 V1427.8 H854.8 V1532.4" fill="none" stroke="#000" stroke-width="6.6" stroke-linejoin="miter"/>
<text x="815.35" y="1408.8" font-family="'Liberation Sans', sans-serif" font-size="34.7" text-anchor="middle">0.8594</text>
<path d="M775.9,1573.74 C776.34,1575.14 776,1574.96 778.02,1580.51 C780.03,1586.05 782.94,1592.27 785.64,1600.56 C788.33,1608.85 789.52,1612.33 791.05,1620.62 C792.59,1628.91 792.64,1632.38 793.06,1640.67 C793.47,1648.96 793.18,1652.44 793.06,1660.73 C792.93,1669.02 792.87,1672.5 792.46,1680.79 C792.04,1689.08 791.96,1692.55 791.05,1700.84 C790.14,1709.13 788.25,1712.61 788.04,1720.9 C787.84,1729.19 788.39,1733.49 790.05,1740.95 C791.71,1748.42 794.2,1751.2 796.07,1757 C797.93,1762.8 798.87,1764.06 799.07,1769.03 C799.28,1774.01 798.93,1776.09 797.07,1781.07 C795.2,1786.04 793.78,1786.88 790.05,1793.1 C786.32,1799.32 781.94,1805.36 779.02,1811.15 C776.09,1816.94 776.54,1819.07 775.9,1821.13 L775.9,1821.13 C775.26,1819.07 775.71,1816.94 772.78,1811.15 C769.86,1805.36 765.48,1799.32 761.75,1793.1 C758.02,1786.88 756.6,1786.04 754.73,1781.07 C752.87,1776.09 752.52,1774.01 752.73,1769.03 C752.93,1764.06 753.87,1762.8 755.73,1757 C757.6,1751.2 760.09,1748.42 761.75,1740.95 C763.41,1733.49 763.96,1729.19 763.76,1720.9 C763.55,1712.61 761.66,1709.13 760.75,1700.84 C759.84,1692.55 759.76,1689.08 759.34,1680.79 C758.93,1672.5 758.87,1669.02 758.74,1660.73 C758.62,1652.44 758.33,1648.96 758.74,1640.67 C759.16,1632.38 759.21,1628.91 760.75,1620.62 C762.28,1612.33 763.47,1608.85 766.16,1600.56 C768.86,1592.27 771.77,1586.05 773.78,1580.51 C775.8,1574.96 775.46,1575.14 775.9,1573.74 Z" fill="#ffffff" stroke="#000" stroke-width="6.6" stroke-linejoin="round"/>
<line x1="775.9" y1="1530.77" x2="775.9" y2="1574.74" stroke="#000" stroke-width="6.6" />
<line x1="775.9" y1="1820.13" x2="775.9" y2="1856.38" stroke="#000" stroke-width="6.6" />
<line x1="764.87" y1="1643.68" x2="786.93" y2="1643.68" stroke="#000" stroke-width="2.2" stroke-dasharray="2.2 4.84"/>
<line x1="760.86" y1="1768.63" x2="790.94" y2="1768.63" stroke="#000" stroke-width="2.2" stroke-dasharray="2.2 4.84"/>
<line x1="763.47" y1="1700.84" x2="788.33" y2="1700.84" stroke="#000" stroke-width="2.53" stroke-dasharray="9.9 3.96"/>
<circle cx="775.9" cy="1608.58" r="7.1"/>
<circle cx="775.9" cy="1639.07" r="7.1"/>
<circle cx="775.9" cy="1657.12" r="7.1"/>
<circle cx="775.9" cy="1694.83" r="7.1"/>
<circle cx="775.9" cy="1707.86" r="7.1"/>
<circle cx="763.47" cy="1764.02" r="7.1"/>
<circle cx="788.54" cy="1770.04" r="7.1"/>
<circle cx="763.47" cy="1777.06" r="7.1"/>
<path d="M854.8,1575.51 C854.82,1576.54 854.35,1577.4 854.91,1580.51 C855.47,1583.61 855.94,1586.39 857.52,1590.53 C859.09,1594.68 860.25,1596.42 862.53,1600.56 C864.81,1604.71 865.85,1606.44 868.55,1610.59 C871.24,1614.73 873.49,1616.06 875.57,1620.62 C877.64,1625.18 878.37,1627.68 878.58,1632.65 C878.78,1637.63 878.02,1638.88 876.57,1644.69 C875.12,1650.49 872.51,1653.27 871.56,1660.73 C870.6,1668.19 871.96,1672.5 871.96,1680.79 C871.96,1689.08 872.47,1692.55 871.56,1700.84 C870.64,1709.13 869.53,1713.44 867.54,1720.9 C865.56,1728.36 863.55,1731.02 861.93,1736.94 C860.31,1742.87 859.76,1743.4 859.72,1749.58 C859.68,1755.75 862.23,1759.16 861.73,1766.83 C861.23,1774.5 858.68,1779.18 857.32,1786.68 C855.95,1794.19 855.63,1798.7 855.11,1803.13 C854.59,1807.56 854.86,1807.1 854.8,1808.13 L854.8,1808.13 C854.74,1807.1 855.01,1807.56 854.49,1803.13 C853.97,1798.7 853.65,1794.19 852.28,1786.68 C850.92,1779.18 848.37,1774.5 847.87,1766.83 C847.37,1759.16 849.92,1755.75 849.88,1749.58 C849.84,1743.4 849.29,1742.87 847.67,1736.94 C846.05,1731.02 844.04,1728.36 842.06,1720.9 C840.07,1713.44 838.96,1709.13 838.04,1700.84 C837.13,1692.55 837.64,1689.08 837.64,1680.79 C837.64,1672.5 839,1668.19 838.04,1660.73 C837.09,1653.27 834.48,1650.49 833.03,1644.69 C831.58,1638.88 830.82,1637.63 831.02,1632.65 C831.23,1627.68 831.96,1625.18 834.03,1620.62 C836.11,1616.06 838.36,1614.73 841.05,1610.59 C843.75,1606.44 844.79,1604.71 847.07,1600.56 C849.35,1596.42 850.51,1594.68 852.08,1590.53 C853.66,1586.39 854.13,1583.61 854.69,1580.51 C855.25,1577.4 854.78,1576.54 854.8,1575.51 Z" fill="#d4d4d4" stroke="#000" stroke-width="6.6" stroke-linejoin="round"/>
<line x1="854.8" y1="1557.44" x2="854.8" y2="1576.51" stroke="#000" stroke-width="6.6" />
<line x1="854.8" y1="1807.13" x2="854.8" y2="1827.9" stroke="#000" stroke-width="6.6" />
<line x1="836.75" y1="1636.66" x2="872.85" y2="1636.66" stroke="#000" stroke-width="2.2" stroke-dasharray="2.2 4.84"/>
<line x1="846.78" y1="1715.28" x2="862.82" y2="1715.28" stroke="#000" stroke-width="2.2" stroke-dasharray="2.2 4.84"/>
<line x1="839.76" y1="1679.78" x2="869.84" y2="1679.78" stroke="#000" stroke-width="2.53" stroke-dasharray="9.9 3.96"/>
<circle cx="854.8" cy="1615.6" r="7.1"/>
<circle cx="867.84" cy="1630.65" r="7.1"/>
<circle cx="841.76" cy="1641.68" r="7.1"/>
<circle cx="867.84" cy="1644.69" r="7.1"/>
<circle cx="841.76" cy="1680.79" r="7.1"/>
<circle cx="867.84" cy="1686.8" r="7.1"/>
<circle cx="854.8" cy="1706.86" r="7.1"/>
<circle cx="854.8" cy="1722.9" r="7.1"/>
<circle cx="854.8" cy="1769.03" r="7.1"/>
<path d="M933.7,1505.31 C933.7,1506.34 933.22,1506.37 933.7,1510.31 C934.18,1514.24 934.09,1518.13 936.02,1524.35 C937.95,1530.57 940.42,1534.18 943.04,1540.39 C945.65,1546.61 947.28,1549.04 948.65,1554.43 C950.02,1559.82 949.99,1561.08 949.65,1566.47 C949.32,1571.85 949.04,1573.46 947.05,1580.51 C945.06,1587.55 941.89,1593.52 940.03,1600.56 C938.16,1607.61 937.81,1608.38 938.02,1614.6 C938.23,1620.82 938.75,1623.18 941.03,1630.65 C943.31,1638.11 945.94,1642.83 949.05,1650.7 C952.16,1658.58 954.21,1662.54 956.07,1668.75 C957.94,1674.97 958.28,1675.81 958.08,1680.79 C957.87,1685.76 957.35,1686.6 955.07,1692.82 C952.79,1699.04 950.57,1703 947.05,1710.87 C943.52,1718.75 940.76,1723.05 938.02,1730.93 C935.29,1738.8 934.7,1744.21 933.81,1748.98 C932.92,1753.74 933.72,1752.94 933.7,1753.98 L933.7,1753.98 C933.68,1752.94 934.48,1753.74 933.59,1748.98 C932.7,1744.21 932.11,1738.8 929.38,1730.93 C926.64,1723.05 923.88,1718.75 920.35,1710.87 C916.83,1703 914.61,1699.04 912.33,1692.82 C910.05,1686.6 909.53,1685.76 909.32,1680.79 C909.12,1675.81 909.46,1674.97 911.33,1668.75 C913.19,1662.54 915.24,1658.58 918.35,1650.7 C921.46,1642.83 924.09,1638.11 926.37,1630.65 C928.65,1623.18 929.17,1620.82 929.38,1614.6 C929.59,1608.38 929.24,1607.61 927.37,1600.56 C925.51,1593.52 922.34,1587.55 920.35,1580.51 C918.36,1573.46 918.08,1571.85 917.75,1566.47 C917.41,1561.08 917.38,1559.82 918.75,1554.43 C920.12,1549.04 921.75,1546.61 924.36,1540.39 C926.98,1534.18 929.45,1530.57 931.38,1524.35 C933.31,1518.13 933.22,1514.24 933.7,1510.31 C934.18,1506.37 933.7,1506.34 933.7,1505.31 Z" fill="#a0a0a4" stroke="#000" stroke-width="6.6" stroke-linejoin="round"/>
<line x1="933.7" y1="1477.22" x2="933.7" y2="1506.31" stroke="#000" stroke-width="6.6" />
<line x1="933.7" y1="1752.98" x2="933.7" y2="1796.51" stroke="#000" stroke-width="6.6" />
<line x1="918.66" y1="1572.08" x2="948.74" y2="1572.08" stroke="#000" stroke-width="2.2" stroke-dasharray="2.2 4.84"/>
<line x1="918.66" y1="1693.82" x2="948.74" y2="1693.82" stroke="#000" stroke-width="2.2" stroke-dasharray="2.2 4.84"/>
<line x1="912.64" y1="1671.16" x2="954.76" y2="1671.16" stroke="#000" stroke-width="2.53" stroke-dasharray="9.9 3.96"/>
<circle cx="933.7" cy="1552.43" r="7.1"/>
<circle cx="923.07" cy="1572.08" r="7.1"/>
<circle cx="944.13" cy="1572.08" r="7.1"/>
<circle cx="933.7" cy="1644.69" r="7.1"/>
<circle cx="933.7" cy="1670.76" r="7.1"/>
<circle cx="914.04" cy="1679.78" r="7.1"/>
<circle cx="953.15" cy="1682.79" r="7.1"/>
<circle cx="933.7" cy="1704.85" r="7.1"/>
<circle cx="933.7" cy="1720.9" r="7.1"/>
<path d="M1012.6,1509.29 C1012.63,1510.32 1011.38,1508.53 1012.73,1514.29 C1014.08,1520.04 1015.68,1527.7 1019.13,1537.14 C1022.58,1546.59 1026.25,1551.5 1029.41,1560 C1032.58,1568.5 1033.26,1571.2 1034.44,1578.29 C1035.62,1585.37 1035.93,1587.2 1035.13,1594.29 C1034.33,1601.37 1032.92,1604.07 1030.56,1612.57 C1028.2,1621.07 1025.59,1625.98 1023.7,1635.43 C1021.81,1644.88 1021.51,1648.84 1021.41,1658.29 C1021.32,1667.73 1021.73,1671.7 1023.24,1681.14 C1024.75,1690.59 1027.22,1695.5 1028.73,1704 C1030.24,1712.5 1030.65,1714.26 1030.56,1722.29 C1030.46,1730.32 1029.78,1733.88 1028.27,1742.86 C1026.76,1751.83 1025.37,1756.27 1023.24,1765.71 C1021.12,1775.16 1019.78,1779.12 1017.99,1788.57 C1016.19,1798.02 1015.67,1801.98 1014.56,1811.43 C1013.44,1820.88 1013,1828.53 1012.6,1834.29 C1012.2,1840.04 1012.6,1838.25 1012.6,1839.29 L1012.6,1839.29 C1012.6,1838.25 1013,1840.04 1012.6,1834.29 C1012.2,1828.53 1011.76,1820.88 1010.64,1811.43 C1009.53,1801.98 1009.01,1798.02 1007.21,1788.57 C1005.42,1779.12 1004.08,1775.16 1001.96,1765.71 C999.83,1756.27 998.44,1751.83 996.93,1742.86 C995.42,1733.88 994.74,1730.32 994.64,1722.29 C994.55,1714.26 994.96,1712.5 996.47,1704 C997.98,1695.5 1000.45,1690.59 1001.96,1681.14 C1003.47,1671.7 1003.88,1667.73 1003.79,1658.29 C1003.69,1648.84 1003.39,1644.88 1001.5,1635.43 C999.61,1625.98 997,1621.07 994.64,1612.57 C992.28,1604.07 990.87,1601.37 990.07,1594.29 C989.27,1587.2 989.58,1585.37 990.76,1578.29 C991.94,1571.2 992.62,1568.5 995.79,1560 C998.95,1551.5 1002.62,1546.59 1006.07,1537.14 C1009.52,1527.7 1011.12,1520.04 1012.47,1514.29 C1013.82,1508.53 1012.57,1510.32 1012.6,1509.29 Z" fill="url(#grid)" stroke="#000" stroke-width="6.6" stroke-linejoin="round"/>
<line x1="1012.6" y1="1486.4" x2="1012.6" y2="1510.29" stroke="#000" stroke-width="6.6" />
<line x1="1012.6" y1="1838.29" x2="1012.6" y2="1872.69" stroke="#000" stroke-width="6.6" />
<circle cx="999.34" cy="1592" r="7.1"/>
<circle cx="1025.63" cy="1580.57" r="7.1"/>
<circle cx="1012.6" cy="1612.57" r="7.1"/>
<circle cx="1012.6" cy="1653.71" r="7.1"/>
<circle cx="1012.6" cy="1717.71" r="7.1"/>
<circle cx="1012.6" cy="1729.14" r="7.1"/>
<circle cx="1012.6" cy="1779.43" r="7.1"/>
<path d="M1091.5,1532.14 C1091.53,1533.18 1090.89,1531.39 1091.63,1537.14 C1092.36,1542.9 1093.03,1550.55 1095.06,1560 C1097.09,1569.45 1099.33,1574.83 1101.46,1582.86 C1103.58,1590.89 1104.54,1591.77 1105.34,1598.86 C1106.15,1605.94 1105.67,1608.64 1105.34,1617.14 C1105.01,1625.65 1103.51,1630.55 1103.74,1640 C1103.98,1649.45 1104.74,1654.35 1106.49,1662.86 C1108.23,1671.36 1110.55,1674.06 1112.2,1681.14 C1113.85,1688.23 1114.34,1689.11 1114.49,1697.14 C1114.63,1705.17 1113.83,1710.55 1112.89,1720 C1111.94,1729.45 1111.47,1733.41 1109.91,1742.86 C1108.36,1752.3 1106.76,1756.27 1105.34,1765.71 C1103.93,1775.16 1103.2,1780.07 1103.06,1788.57 C1102.92,1797.07 1104.09,1799.77 1104.66,1806.86 C1105.22,1813.94 1105.89,1815.77 1105.8,1822.86 C1105.71,1829.94 1106.18,1832.64 1104.2,1841.14 C1102.22,1849.65 1098.8,1855.5 1096.2,1864 C1093.6,1872.5 1092.6,1877.47 1091.63,1882.29 C1090.66,1887.1 1091.53,1886.25 1091.5,1887.29 L1091.5,1887.29 C1091.47,1886.25 1092.34,1887.1 1091.37,1882.29 C1090.4,1877.47 1089.4,1872.5 1086.8,1864 C1084.2,1855.5 1080.78,1849.65 1078.8,1841.14 C1076.82,1832.64 1077.29,1829.94 1077.2,1822.86 C1077.11,1815.77 1077.78,1813.94 1078.34,1806.86 C1078.91,1799.77 1080.08,1797.07 1079.94,1788.57 C1079.8,1780.07 1079.07,1775.16 1077.66,1765.71 C1076.24,1756.27 1074.64,1752.3 1073.09,1742.86 C1071.53,1733.41 1071.06,1729.45 1070.11,1720 C1069.17,1710.55 1068.37,1705.17 1068.51,1697.14 C1068.66,1689.11 1069.15,1688.23 1070.8,1681.14 C1072.45,1674.06 1074.77,1671.36 1076.51,1662.86 C1078.26,1654.35 1079.02,1649.45 1079.26,1640 C1079.49,1630.55 1077.99,1625.65 1077.66,1617.14 C1077.33,1608.64 1076.85,1605.94 1077.66,1598.86 C1078.46,1591.77 1079.42,1590.89 1081.54,1582.86 C1083.67,1574.83 1085.91,1569.45 1087.94,1560 C1089.97,1550.55 1090.64,1542.9 1091.37,1537.14 C1092.11,1531.39 1091.47,1533.18 1091.5,1532.14 Z" fill="#606060" stroke="#000" stroke-width="6.6" stroke-linejoin="round"/>
<line x1="1091.5" y1="1510.4" x2="1091.5" y2="1533.14" stroke="#000" stroke-width="6.6" />
<line x1="1091.5" y1="1886.29" x2="1091.5" y2="1934.4" stroke="#000" stroke-width="6.6" />
<line x1="1084.64" y1="1651.89" x2="1098.36" y2="1651.89" stroke="#000" stroke-width="2.2" stroke-dasharray="2.2 4.84"/>
<line x1="1086.93" y1="1789.03" x2="1096.07" y2="1789.03" stroke="#000" stroke-width="2.2" stroke-dasharray="2.2 4.84"/>
<line x1="1072.07" y1="1709.26" x2="1110.93" y2="1709.26" stroke="#000" stroke-width="2.53" stroke-dasharray="9.9 3.96"/>
<circle cx="1078.93" cy="1606.4" r="7.1"/>
<circle cx="1104.53" cy="1617.14" r="7.1"/>
<circle cx="1078.93" cy="1687.54" r="7.1"/>
<circle cx="1104.53" cy="1689.14" r="7.1"/>
<circle cx="1091.5" cy="1709.26" r="7.1"/>
<circle cx="1078.93" cy="1753.6" r="7.1"/>
<circle cx="1104.53" cy="1749.71" r="7.1"/>
<circle cx="1091.5" cy="1822.86" r="7.1"/>
<circle cx="1091.5" cy="1837.71" r="7.1"/>
</g>
<g>
<path d="M1331,1423.15 V1985.55" fill="none" stroke="#000" stroke-width="6.5"/>
<line x1="1312.5" y1="1982.3" x2="1750" y2="1982.3" stroke="#000" stroke-width="6.5" />
<text x="1306.8" y="1996.2" font-family="'Liberation Sans', sans-serif" font-size="35.2" font-weight="bold" text-anchor="end">0.0</text>
<line x1="1312.5" y1="1843.33" x2="1331" y2="1843.33" stroke="#000" stroke-width="6.5" />
<text x="1306.8" y="1857.23" font-family="'Liberation Sans', sans-serif" font-size="35.2" font-weight="bold" text-anchor="end">0.5</text>
<line x1="1312.5" y1="1704.35" x2="1331" y2="1704.35" stroke="#000" stroke-width="6.5" />
<text x="1306.8" y="1718.25" font-family="'Liberation Sans', sans-serif" font-size="35.2" font-weight="bold" text-anchor="end">1.0</text>
<line x1="1312.5" y1="1565.38" x2="1331" y2="1565.38" stroke="#000" stroke-width="6.5" />
<text x="1306.8" y="1579.28" font-family="'Liberation Sans', sans-serif" font-size="35.2" font-weight="bold" text-anchor="end">1.5</text>
<line x1="1312.5" y1="1426.4" x2="1331" y2="1426.4" stroke="#000" stroke-width="6.5" />
<text x="1306.8" y="1440.3" font-family="'Liberation Sans', sans-serif" font-size="35.2" font-weight="bold" text-anchor="end">2.0</text>
<line x1="1383.1" y1="1982.3" x2="1383.1" y2="2000.3" stroke="#000" stroke-width="6.5" />
<line x1="1461.1" y1="1982.3" x2="1461.1" y2="2000.3" stroke="#000" stroke-width="6.5" />
<line x1="1539.1" y1="1982.3" x2="1539.1" y2="2000.3" stroke="#000" stroke-width="6.5" />
<line x1="1617.1" y1="1982.3" x2="1617.1" y2="2000.3" stroke="#000" stroke-width="6.5" />
<line x1="1695.1" y1="1982.3" x2="1695.1" y2="2000.3" stroke="#000" stroke-width="6.5" />
<text x="1395.8" y="2028.6" font-family="'Liberation Sans', sans-serif" font-size="33.6" text-anchor="end" transform="rotate(-48 1395.8 2028.6)">Mock</text>
<text x="1464.6" y="2039" font-family="'Liberation Sans', sans-serif" font-size="33.6" text-anchor="end" transform="rotate(-48 1464.6 2039)">Nb1</text>
<text x="1543.9" y="2037.8" font-family="'Liberation Sans', sans-serif" font-size="33.6" text-anchor="end" transform="rotate(-48 1543.9 2037.8)">Nb4</text>
<text x="1623.2" y="2036.5" font-family="'Liberation Sans', sans-serif" font-size="33.6" text-anchor="end" transform="rotate(-48 1623.2 2036.5)">Nb9</text>
<text x="1699.9" y="2037.8" font-family="'Liberation Sans', sans-serif" font-size="33.6" text-anchor="end" transform="rotate(-48 1699.9 2037.8)">Nb16</text>
<text x="1199.7" y="1701" font-family="'Liberation Sans', sans-serif" font-size="36.5" font-weight="bold" text-anchor="middle" transform="rotate(-90 1199.7 1701)" textLength="357.2" lengthAdjust="spacingAndGlyphs">DQ-BSA fluorescence</text>
<text x="1240.4" y="1681.4" font-family="'Liberation Sans', sans-serif" font-size="36.5" font-weight="bold" text-anchor="middle" transform="rotate(-90 1240.4 1681.4)" textLength="535.5" lengthAdjust="spacingAndGlyphs">(normalized vs Mock) (arb. units)</text>
<text x="1546.3" y="1027.1" font-family="'Liberation Sans', sans-serif" font-size="38.6" font-weight="bold" text-anchor="middle">Lysosomes-Nbs</text>
<text x="1247" y="1068.4" font-family="'Liberation Sans', sans-serif" font-size="49.5" font-weight="bold">F</text>
<path d="M1383.1,1286.7 V1224.1 H1695.1 V1511.1" fill="none" stroke="#000" stroke-width="6.5" stroke-linejoin="miter"/>
<text x="1539.1" y="1204.2" font-family="'Liberation Sans', sans-serif" font-size="35" text-anchor="middle">&gt;0.9999</text>
<path d="M1383.1,1335.9 V1311.8 H1617.1 V1604" fill="none" stroke="#000" stroke-width="6.5" stroke-linejoin="miter"/>
<text x="1500.1" y="1291.2" font-family="'Liberation Sans', sans-serif" font-size="35" text-anchor="middle">0.8508</text>
<path d="M1383.1,1423.6 V1399.5 H1539.1 V1578.5" fill="none" stroke="#000" stroke-width="6.5" stroke-linejoin="miter"/>
<text x="1461.1" y="1378.9" font-family="'Liberation Sans', sans-serif" font-size="35" text-anchor="middle">0.9361</text>
<path d="M1383.1,1641.7 V1486.4 H1461.1 V1563.9" fill="none" stroke="#000" stroke-width="6.5" stroke-linejoin="miter"/>
<text x="1422.1" y="1467.2" font-family="'Liberation Sans', sans-serif" font-size="35" text-anchor="middle">0.9009</text>
<path d="M1383.1,1672.52 C1383.22,1672.99 1380.85,1673.48 1383.66,1674.77 C1386.47,1676.06 1392.05,1676.29 1396.7,1678.78 C1401.34,1681.27 1404.26,1683.49 1406.12,1686.8 C1407.99,1690.12 1407.26,1691.51 1405.72,1694.83 C1404.19,1698.14 1400.65,1699.32 1398.7,1702.85 C1396.75,1706.37 1398.37,1708.14 1396.3,1711.87 C1394.22,1715.6 1390.04,1717.38 1388.67,1720.9 C1387.31,1724.42 1390.51,1725.61 1389.68,1728.92 C1388.85,1732.24 1386.02,1734.41 1384.66,1736.94 C1383.3,1739.48 1383.42,1740.32 1383.1,1741.2 L1383.1,1741.2 C1382.78,1740.32 1382.9,1739.48 1381.54,1736.94 C1380.18,1734.41 1377.35,1732.24 1376.52,1728.92 C1375.69,1725.61 1378.89,1724.42 1377.53,1720.9 C1376.16,1717.38 1371.98,1715.6 1369.9,1711.87 C1367.83,1708.14 1369.45,1706.37 1367.5,1702.85 C1365.55,1699.32 1362.01,1698.14 1360.48,1694.83 C1358.94,1691.51 1358.21,1690.12 1360.08,1686.8 C1361.94,1683.49 1364.86,1681.27 1369.5,1678.78 C1374.15,1676.29 1379.73,1676.06 1382.54,1674.77 C1385.35,1673.48 1382.98,1672.99 1383.1,1672.52 Z" fill="#ffffff" stroke="#000" stroke-width="6.5" stroke-linejoin="round"/>
<line x1="1383.1" y1="1666.35" x2="1383.1" y2="1673.52" stroke="#000" stroke-width="6.5" />
<line x1="1383.1" y1="1740.2" x2="1383.1" y2="1747.37" stroke="#000" stroke-width="6.5" />
<circle cx="1383.1" cy="1683.79" r="7.1"/>
<circle cx="1362.24" cy="1686.8" r="7.1"/>
<circle cx="1404.36" cy="1683.79" r="7.1"/>
<circle cx="1370.26" cy="1694.83" r="7.1"/>
<circle cx="1396.34" cy="1694.83" r="7.1"/>
<circle cx="1383.1" cy="1700.84" r="7.1"/>
<circle cx="1362.24" cy="1692.82" r="7.1"/>
<circle cx="1374.28" cy="1711.87" r="7.1"/>
<circle cx="1392.33" cy="1711.87" r="7.1"/>
<circle cx="1383.1" cy="1728.92" r="7.1"/>
<circle cx="1383.1" cy="1712.88" r="7.1"/>
<circle cx="1371.27" cy="1686.4" r="7.1"/>
<circle cx="1395.33" cy="1686.4" r="7.1"/>
<circle cx="1404.36" cy="1691.82" r="7.1"/>
<circle cx="1383.1" cy="1720.9" r="7.1"/>
<circle cx="1383.1" cy="1736.94" r="7.1"/>
<circle cx="1378.29" cy="1730.93" r="7.1"/>
<circle cx="1388.31" cy="1730.93" r="7.1"/>
<path d="M1461.1,1605.59 C1461.1,1606.62 1460.74,1607.9 1461.1,1610.59 C1461.46,1613.28 1461.96,1615.3 1462.86,1618.61 C1463.77,1621.93 1464.64,1623.53 1465.47,1626.63 C1466.3,1629.74 1466.75,1630.75 1466.88,1633.65 C1467,1636.56 1466.78,1637.57 1466.07,1640.67 C1465.37,1643.78 1464.21,1645.59 1463.47,1648.7 C1462.72,1651.81 1462.17,1652.81 1462.46,1655.72 C1462.75,1658.62 1463.25,1659.63 1464.87,1662.74 C1466.49,1665.84 1467.3,1666.2 1470.28,1670.76 C1473.27,1675.32 1477.03,1680.65 1479.31,1684.8 C1481.59,1688.94 1481.73,1686.67 1481.32,1690.81 C1480.9,1694.96 1478.55,1699.88 1477.3,1704.85 C1476.06,1709.83 1474.88,1709.91 1475.3,1714.88 C1475.71,1719.86 1477.65,1723.53 1479.31,1728.92 C1480.97,1734.31 1483.11,1736.4 1483.32,1740.95 C1483.53,1745.51 1483.01,1744.77 1480.31,1750.98 C1477.62,1757.2 1473.81,1763.99 1470.28,1771.04 C1466.76,1778.09 1465.16,1779.69 1463.27,1785.08 C1461.37,1790.47 1461.55,1793.59 1461.1,1797.11 C1460.65,1800.63 1461.1,1801.08 1461.1,1802.11 L1461.1,1802.11 C1461.1,1801.08 1461.55,1800.63 1461.1,1797.11 C1460.65,1793.59 1460.83,1790.47 1458.93,1785.08 C1457.04,1779.69 1455.44,1778.09 1451.92,1771.04 C1448.39,1763.99 1444.58,1757.2 1441.89,1750.98 C1439.19,1744.77 1438.67,1745.51 1438.88,1740.95 C1439.09,1736.4 1441.23,1734.31 1442.89,1728.92 C1444.55,1723.53 1446.49,1719.86 1446.9,1714.88 C1447.32,1709.91 1446.14,1709.83 1444.9,1704.85 C1443.65,1699.88 1441.3,1694.96 1440.88,1690.81 C1440.47,1686.67 1440.61,1688.94 1442.89,1684.8 C1445.17,1680.65 1448.93,1675.32 1451.92,1670.76 C1454.9,1666.2 1455.71,1665.84 1457.33,1662.74 C1458.95,1659.63 1459.45,1658.62 1459.74,1655.72 C1460.03,1652.81 1459.48,1651.81 1458.73,1648.7 C1457.99,1645.59 1456.83,1643.78 1456.13,1640.67 C1455.42,1637.57 1455.2,1636.56 1455.32,1633.65 C1455.45,1630.75 1455.9,1629.74 1456.73,1626.63 C1457.56,1623.53 1458.43,1621.93 1459.34,1618.61 C1460.24,1615.3 1460.74,1613.28 1461.1,1610.59 C1461.46,1607.9 1461.1,1606.62 1461.1,1605.59 Z" fill="#d4d4d4" stroke="#000" stroke-width="6.5" stroke-linejoin="round"/>
<line x1="1461.1" y1="1588.13" x2="1461.1" y2="1606.59" stroke="#000" stroke-width="6.5" />
<line x1="1461.1" y1="1801.11" x2="1461.1" y2="1814.36" stroke="#000" stroke-width="6.5" />
<line x1="1443.05" y1="1685.8" x2="1479.15" y2="1685.8" stroke="#000" stroke-width="2.2" stroke-dasharray="2.2 4.84"/>
<line x1="1441.04" y1="1741.96" x2="1481.16" y2="1741.96" stroke="#000" stroke-width="2.2" stroke-dasharray="2.2 4.84"/>
<line x1="1443.05" y1="1715.28" x2="1479.15" y2="1715.28" stroke="#000" stroke-width="2.53" stroke-dasharray="9.9 3.96"/>
<circle cx="1461.1" cy="1633.65" r="7.1"/>
<circle cx="1461.1" cy="1680.79" r="7.1"/>
<circle cx="1461.1" cy="1697.83" r="7.1"/>
<circle cx="1440.44" cy="1686.8" r="7.1"/>
<circle cx="1440.44" cy="1700.84" r="7.1"/>
<circle cx="1461.1" cy="1729.32" r="7.1"/>
<circle cx="1440.44" cy="1734.54" r="7.1"/>
<circle cx="1480.55" cy="1739.95" r="7.1"/>
<circle cx="1461.1" cy="1748.98" r="7.1"/>
<circle cx="1461.1" cy="1768.03" r="7.1"/>
<path d="M1539.1,1615.62 C1539.13,1616.65 1538.4,1616.68 1539.26,1620.62 C1540.12,1624.55 1540.78,1629.27 1543.27,1634.66 C1545.76,1640.05 1548.81,1642.13 1551.29,1646.69 C1553.78,1651.25 1555.1,1652.16 1555.3,1656.72 C1555.51,1661.28 1553.75,1663.78 1552.3,1668.75 C1550.85,1673.73 1549.2,1675.4 1548.28,1680.79 C1547.37,1686.17 1547.05,1688.61 1547.88,1694.83 C1548.71,1701.04 1550.35,1704.65 1552.3,1710.87 C1554.24,1717.09 1555.44,1718.69 1557.31,1724.91 C1559.18,1731.13 1560.7,1735.15 1561.32,1740.95 C1561.94,1746.76 1561.77,1748.01 1560.32,1752.99 C1558.87,1757.96 1557.62,1760.05 1554.3,1765.02 C1550.99,1770 1547.42,1772.5 1544.27,1777.06 C1541.13,1781.62 1540.17,1783.98 1539.1,1787.08 C1538.03,1790.19 1539.1,1791.05 1539.1,1792.08 L1539.1,1792.08 C1539.1,1791.05 1540.17,1790.19 1539.1,1787.08 C1538.03,1783.98 1537.07,1781.62 1533.93,1777.06 C1530.78,1772.5 1527.21,1770 1523.9,1765.02 C1520.58,1760.05 1519.33,1757.96 1517.88,1752.99 C1516.43,1748.01 1516.26,1746.76 1516.88,1740.95 C1517.5,1735.15 1519.02,1731.13 1520.89,1724.91 C1522.76,1718.69 1523.96,1717.09 1525.9,1710.87 C1527.85,1704.65 1529.49,1701.04 1530.32,1694.83 C1531.15,1688.61 1530.83,1686.17 1529.92,1680.79 C1529,1675.4 1527.35,1673.73 1525.9,1668.75 C1524.45,1663.78 1522.69,1661.28 1522.9,1656.72 C1523.1,1652.16 1524.42,1651.25 1526.91,1646.69 C1529.39,1642.13 1532.44,1640.05 1534.93,1634.66 C1537.42,1629.27 1538.08,1624.55 1538.94,1620.62 C1539.8,1616.68 1539.07,1616.65 1539.1,1615.62 Z" fill="#a0a0a4" stroke="#000" stroke-width="6.5" stroke-linejoin="round"/>
<line x1="1539.1" y1="1602.57" x2="1539.1" y2="1616.62" stroke="#000" stroke-width="6.5" />
<line x1="1539.1" y1="1791.08" x2="1539.1" y2="1810.75" stroke="#000" stroke-width="6.5" />
<line x1="1525.06" y1="1665.14" x2="1553.14" y2="1665.14" stroke="#000" stroke-width="2.2" stroke-dasharray="2.2 4.84"/>
<line x1="1519.04" y1="1748.98" x2="1559.16" y2="1748.98" stroke="#000" stroke-width="2.2" stroke-dasharray="2.2 4.84"/>
<line x1="1521.05" y1="1723.91" x2="1557.15" y2="1723.91" stroke="#000" stroke-width="2.53" stroke-dasharray="9.9 3.96"/>
<circle cx="1526.67" cy="1656.72" r="7.1"/>
<circle cx="1551.13" cy="1667.75" r="7.1"/>
<circle cx="1539.1" cy="1711.87" r="7.1"/>
<circle cx="1527.07" cy="1734.54" r="7.1"/>
<circle cx="1551.13" cy="1745.97" r="7.1"/>
<circle cx="1527.07" cy="1756.6" r="7.1"/>
<path d="M1617.1,1639.29 C1617.1,1640.33 1616.04,1641.14 1617.11,1644.29 C1618.17,1647.45 1620.59,1650.33 1622.25,1654.58 C1623.92,1658.83 1624.46,1659.91 1625.16,1664.87 C1625.87,1669.83 1624.16,1673.62 1625.68,1678.58 C1627.2,1683.54 1629.88,1684.62 1632.54,1688.87 C1635.19,1693.12 1637.01,1695.26 1638.54,1699.15 C1640.06,1703.05 1640.26,1703.83 1639.91,1707.73 C1639.55,1711.62 1638.7,1713.41 1636.82,1718.01 C1634.94,1722.62 1633.13,1724.7 1630.82,1730.01 C1628.52,1735.33 1627.1,1738.41 1625.68,1743.73 C1624.26,1749.04 1624.07,1750.41 1623.96,1755.73 C1623.86,1761.04 1625.52,1764.13 1625.16,1769.44 C1624.81,1774.76 1623.74,1776.84 1622.25,1781.45 C1620.76,1786.05 1619.03,1788.57 1617.96,1791.73 C1616.9,1794.89 1617.28,1795.7 1617.1,1796.73 L1617.1,1796.73 C1616.92,1795.7 1617.3,1794.89 1616.24,1791.73 C1615.17,1788.57 1613.44,1786.05 1611.95,1781.45 C1610.46,1776.84 1609.39,1774.76 1609.04,1769.44 C1608.68,1764.13 1610.34,1761.04 1610.24,1755.73 C1610.13,1750.41 1609.94,1749.04 1608.52,1743.73 C1607.1,1738.41 1605.68,1735.33 1603.38,1730.01 C1601.07,1724.7 1599.26,1722.62 1597.38,1718.01 C1595.5,1713.41 1594.65,1711.62 1594.29,1707.73 C1593.94,1703.83 1594.14,1703.05 1595.66,1699.15 C1597.19,1695.26 1599.01,1693.12 1601.66,1688.87 C1604.32,1684.62 1607,1683.54 1608.52,1678.58 C1610.04,1673.62 1608.33,1669.83 1609.04,1664.87 C1609.74,1659.91 1610.28,1658.83 1611.95,1654.58 C1613.61,1650.33 1616.03,1647.45 1617.09,1644.29 C1618.16,1641.14 1617.1,1640.33 1617.1,1639.29 Z" fill="url(#grid)" stroke="#000" stroke-width="6.5" stroke-linejoin="round"/>
<line x1="1617.1" y1="1628.01" x2="1617.1" y2="1640.29" stroke="#000" stroke-width="6.5" />
<line x1="1617.1" y1="1795.73" x2="1617.1" y2="1810.25" stroke="#000" stroke-width="6.5" />
<circle cx="1617.1" cy="1668.3" r="7.1"/>
<circle cx="1604.41" cy="1700.87" r="7.1"/>
<circle cx="1630.13" cy="1700.87" r="7.1"/>
<circle cx="1617.1" cy="1743.73" r="7.1"/>
<circle cx="1617.1" cy="1771.16" r="7.1"/>
<circle cx="1600.98" cy="1711.16" r="7.1"/>
<circle cx="1633.56" cy="1711.16" r="7.1"/>
<circle cx="1609.56" cy="1730.01" r="7.1"/>
<circle cx="1624.99" cy="1730.01" r="7.1"/>
<path d="M1695.1,1553.58 C1695.1,1554.61 1694.35,1554 1695.1,1558.58 C1695.85,1563.15 1697.08,1568.63 1698.71,1575.72 C1700.34,1582.81 1701.75,1585.78 1702.99,1592.86 C1704.23,1599.95 1704.53,1602.92 1704.71,1610.01 C1704.89,1617.09 1704.74,1620.06 1703.85,1627.15 C1702.96,1634.24 1701.48,1637.92 1700.42,1644.29 C1699.36,1650.67 1698.35,1652.34 1698.71,1658.01 C1699.06,1663.68 1700.01,1665.7 1702.14,1671.72 C1704.26,1677.75 1706.34,1680.42 1708.99,1687.15 C1711.65,1693.89 1713.22,1697.21 1714.99,1704.3 C1716.77,1711.38 1717.03,1714.36 1717.57,1721.44 C1718.1,1728.53 1718.45,1731.5 1717.57,1738.59 C1716.68,1745.67 1715.94,1748.64 1713.28,1755.73 C1710.62,1762.82 1707.72,1766.85 1704.71,1772.87 C1701.7,1778.9 1700.69,1780.27 1698.71,1784.87 C1696.72,1789.48 1695.85,1792 1695.1,1795.16 C1694.35,1798.32 1695.1,1799.13 1695.1,1800.16 L1695.1,1800.16 C1695.1,1799.13 1695.85,1798.32 1695.1,1795.16 C1694.35,1792 1693.48,1789.48 1691.49,1784.87 C1689.51,1780.27 1688.5,1778.9 1685.49,1772.87 C1682.48,1766.85 1679.58,1762.82 1676.92,1755.73 C1674.26,1748.64 1673.52,1745.67 1672.63,1738.59 C1671.75,1731.5 1672.1,1728.53 1672.63,1721.44 C1673.17,1714.36 1673.43,1711.38 1675.21,1704.3 C1676.98,1697.21 1678.55,1693.89 1681.21,1687.15 C1683.86,1680.42 1685.94,1677.75 1688.06,1671.72 C1690.19,1665.7 1691.14,1663.68 1691.49,1658.01 C1691.85,1652.34 1690.84,1650.67 1689.78,1644.29 C1688.72,1637.92 1687.24,1634.24 1686.35,1627.15 C1685.46,1620.06 1685.31,1617.09 1685.49,1610.01 C1685.67,1602.92 1685.97,1599.95 1687.21,1592.86 C1688.45,1585.78 1689.86,1582.81 1691.49,1575.72 C1693.12,1568.63 1694.35,1563.15 1695.1,1558.58 C1695.85,1554 1695.1,1554.61 1695.1,1553.58 Z" fill="#606060" stroke="#000" stroke-width="6.5" stroke-linejoin="round"/>
<line x1="1695.1" y1="1535.43" x2="1695.1" y2="1554.58" stroke="#000" stroke-width="6.5" />
<line x1="1695.1" y1="1799.16" x2="1695.1" y2="1833.56" stroke="#000" stroke-width="6.5" />
<line x1="1693.73" y1="1649.44" x2="1696.47" y2="1649.44" stroke="#000" stroke-width="2.2" stroke-dasharray="2.2 4.84"/>
<line x1="1693.73" y1="1742.36" x2="1696.47" y2="1742.36" stroke="#000" stroke-width="2.2" stroke-dasharray="2.2 4.84"/>
<line x1="1676.24" y1="1713.73" x2="1713.96" y2="1713.73" stroke="#000" stroke-width="2.53" stroke-dasharray="9.9 3.96"/>
<circle cx="1695.1" cy="1603.15" r="7.1"/>
<circle cx="1695.1" cy="1634.01" r="7.1"/>
<circle cx="1695.1" cy="1693.15" r="7.1"/>
<circle cx="1695.1" cy="1706.87" r="7.1"/>
<circle cx="1695.1" cy="1720.58" r="7.1"/>
<circle cx="1682.24" cy="1740.3" r="7.1"/>
<circle cx="1707.1" cy="1742.87" r="7.1"/>
<circle cx="1695.1" cy="1764.3" r="7.1"/>
</g>
<defs>
<radialGradient id="bead" cx="0.4" cy="0.35" r="0.75"><stop offset="0" stop-color="#4fb5a6"/><stop offset="0.55" stop-color="#2f9a8e"/><stop offset="1" stop-color="#1f7f78"/></radialGradient>
<radialGradient id="gglow"><stop offset="0" stop-color="#7c838a" stop-opacity="0.95"/><stop offset="0.45" stop-color="#8a9096" stop-opacity="0.8"/><stop offset="1" stop-color="#a0a4a8" stop-opacity="0"/></radialGradient>
<radialGradient id="rglow"><stop offset="0" stop-color="#f9285c" stop-opacity="1"/><stop offset="0.4" stop-color="#f9305f" stop-opacity="0.9"/><stop offset="1" stop-color="#fb5c80" stop-opacity="0"/></radialGradient>
</defs>
<g>
<text x="67.6" y="37.1" font-family="'Liberation Sans', sans-serif" font-size="51.5" text-anchor="start" font-weight="bold" textLength="38.2" lengthAdjust="spacingAndGlyphs">A</text>
<text x="287.2" y="102.1" font-family="'Liberation Sans', sans-serif" font-size="27.2" text-anchor="middle" textLength="373" lengthAdjust="spacingAndGlyphs">mCherry + Nb expressing cells</text>
<g transform="translate(200 130) scale(0.13753)">
<g>
<path d="M700,118 C620,170 520,200 440,212 L425,185 C410,240 360,270 315,285 C365,400 310,500 238,578 C340,510 450,470 540,482 L555,515 C525,400 610,250 700,118 Z" fill="#FDE8C8" stroke="#DCAE7A" stroke-width="3.6"/>
<ellipse cx="462" cy="322" rx="63" ry="62" fill="#E6C29B"/>
</g>
<g>
<path d="M715,82 C850,125 990,170 1060,262 C1100,312 1140,362 1168,397 C1080,342 985,322 920,292 C830,250 800,150 715,82 Z" fill="#FDE8C8" stroke="#DCAE7A" stroke-width="3.6"/>
<ellipse cx="960" cy="233" rx="46" ry="35" fill="#E6C29B" transform="rotate(25 960 233)"/>
</g>
<g>
<path d="M1162,155 C1220,210 1290,250 1350,255 C1390,250 1420,240 1430,222 C1435,270 1470,310 1518,322 C1490,350 1500,400 1520,450 C1535,500 1560,540 1580,572 C1500,520 1420,470 1340,445 C1290,430 1250,430 1218,440 C1260,400 1270,330 1240,260 C1220,220 1190,180 1162,155 Z" fill="#E28A88" stroke="#BE444C" stroke-width="3.6"/>
<ellipse cx="1393" cy="355" rx="55" ry="57" fill="#D45C5E"/>
</g>
<g>
<path d="M923,430 A133,131 0 1 1 657,430 A133,131 0 1 1 923,430 Z" fill="#E28A88" stroke="#BE444C" stroke-width="3.6"/>
<ellipse cx="770" cy="447" rx="57" ry="57" fill="#D45C5E"/>
</g>
<g>
<path d="M815,672 C900,650 980,590 1040,510 C1050,495 1058,485 1060,478 C1100,500 1170,495 1205,462 C1240,530 1350,570 1468,565 C1350,610 1220,680 1150,740 C1130,760 1118,780 1115,800 C1100,740 1040,700 960,685 C910,675 860,672 815,672 Z" fill="#E28A88" stroke="#BE444C" stroke-width="3.6"/>
<ellipse cx="1153" cy="592" rx="62" ry="63" fill="#D45C5E"/>
</g>
<g>
<path d="M162,662 C280,630 380,580 460,582 C540,585 640,630 718,652 C640,670 540,715 450,715 C360,715 260,680 162,662 Z" fill="#E28A88" stroke="#BE444C" stroke-width="3.6"/>
<ellipse cx="453" cy="641" rx="48" ry="32" fill="#D45C5E"/>
</g>
<g>
<path d="M1635,640 C1500,660 1380,690 1300,750 C1240,800 1190,850 1130,885 C1230,860 1340,850 1420,810 C1500,770 1570,690 1635,640 Z" fill="#FDE8C8" stroke="#DCAE7A" stroke-width="3.6"/>
<ellipse cx="1388" cy="740" rx="50" ry="34" fill="#E6C29B" transform="rotate(-20 1388 740)"/>
</g>
<g>
<path d="M367,872 A135,131 0 1 1 97,872 A135,131 0 1 1 367,872 Z" fill="#FDE8C8" stroke="#DCAE7A" stroke-width="3.6"/>
<ellipse cx="213" cy="890" rx="57" ry="57" fill="#E6C29B"/>
</g>
<g>
<path d="M825,743 C750,780 670,790 590,787 L575,760 C560,800 510,820 460,825 C500,900 430,1010 343,1075 C430,1030 530,1010 600,1025 L628,1068 C620,960 740,840 825,743 Z" fill="#FDE8C8" stroke="#DCAE7A" stroke-width="3.6"/>
<ellipse cx="583" cy="882" rx="57" ry="55" fill="#E6C29B"/>
</g>
<g>
<path d="M925,815 C960,815 990,850 1020,910 C1050,970 1055,1022 1010,1022 L840,1022 C790,1022 795,975 820,920 C850,850 890,815 925,815 Z" fill="#E28A88" stroke="#BE444C" stroke-width="3.6"/>
<ellipse cx="923" cy="953" rx="45" ry="45" fill="#D45C5E"/>
</g>
<g>
<path d="M840,1168 C950,1120 1050,1060 1110,990 C1125,965 1130,940 1130,915 C1160,980 1280,1020 1422,992 C1330,1040 1250,1100 1225,1205 C1190,1180 1130,1190 1095,1235 C1080,1190 1000,1160 840,1168 Z" fill="#FDE8C8" stroke="#DCAE7A" stroke-width="3.6"/>
<ellipse cx="1122" cy="1103" rx="57" ry="57" fill="#E6C29B"/>
</g>
<g>
<path d="M315,1118 C420,1100 540,1090 620,1110 C720,1140 800,1200 862,1232 C760,1225 660,1240 580,1220 C480,1195 400,1140 315,1118 Z" fill="#E28A88" stroke="#BE444C" stroke-width="3.6"/>
<ellipse cx="607" cy="1160" rx="50" ry="33" fill="#D45C5E" transform="rotate(15 607 1160)"/>
</g>
</g>
<text x="175.8" y="377" font-family="'Liberation Sans', sans-serif" font-size="27.2" text-anchor="middle" font-weight="bold" fill="#57A847" stroke="#57A847" stroke-width="0.5" textLength="135" lengthAdjust="spacingAndGlyphs">PFB-FDGlu</text>
<g transform="translate(80 340) scale(0.21777)" stroke="#5e5e5e" stroke-width="4" fill="none" stroke-linecap="round" stroke-linejoin="round">
<polyline points="312,378 355,352 400,377 400,422 355,448 312,425 312,378"/>
<polyline points="322,385 322,418"/>
<polyline points="358,362 392,382"/>
<polyline points="357,438 392,418"/>
<polyline points="400,377 432,357"/>
<polyline points="462,357 493,377"/>
<polyline points="493,377 493,422 447,448 400,422"/>
<polyline points="493,377 537,352 580,377 580,422 537,448 493,422"/>
<polyline points="503,385 503,418"/>
<polyline points="540,362 572,382"/>
<polyline points="540,438 572,418"/>
<polyline points="312,378 282,360"/>
<polyline points="265,362 265,395"/>
<polyline points="580,377 612,360"/>
<polyline points="628,362 632,392"/>
<polyline points="145,357 208,357"/>
<polyline points="240,372 265,400 228,433 148,433 108,400 145,357"/>
<polyline points="145,357 145,315 112,315"/>
<polyline points="108,400 100,440"/>
<polyline points="228,433 232,470"/>
<polyline points="148,433 140,400"/>
<polygon points="148,430 228,430 228,437 148,437" fill="#5e5e5e" stroke="none"/>
<polyline points="632,392 680,358 755,358 795,390 755,430 695,430"/>
<polyline points="660,425 632,392"/>
<polyline points="755,358 758,325"/>
<polyline points="795,390 828,385"/>
<polyline points="795,390 798,432"/>
<polyline points="680,358 680,390"/>
<polygon points="755,355 798,387 795,393 752,361" fill="#5e5e5e" stroke="none"/>
<polyline points="447,448 480,460"/>
<polyline points="512,475 540,503 492,525"/>
<polyline points="540,498 575,498"/>
<polyline points="540,508 575,508"/>
<polyline points="447,448 447,500"/>
<polyline points="447,500 492,525 492,578 447,605 403,578 403,525 447,500"/>
<polyline points="413,532 413,572"/>
<polyline points="450,594 484,574"/>
<polyline points="452,511 484,530"/>
<polyline points="447,605 447,645"/>
<line x1="447" y1="680" x2="447" y2="700" stroke-dasharray="5 6"/>
<polyline points="447,728 447,765"/>
<polyline points="468,708 485,708"/>
<polyline points="468,718 485,718"/>
<polyline points="447,765 492,790 492,843 447,868 403,843 403,790 447,765"/>
<polyline points="413,797 413,837"/>
<polyline points="450,857 484,838"/>
<polyline points="450,777 484,796"/>
<polyline points="403,790 372,773"/>
<polyline points="492,790 523,773"/>
<polyline points="403,843 372,860"/>
<polyline points="492,843 523,860"/>
<polyline points="447,868 447,903"/>
</g>
<g transform="translate(80 340) scale(0.21777)" font-family="'Liberation Sans', sans-serif" font-size="26" fill="#505050" text-anchor="middle">
<text x="82" y="324">HO</text>
<text x="225" y="376">O</text>
<text x="265" y="359">O</text>
<text x="155" y="401">OH</text>
<text x="95" y="464">HO</text>
<text x="232" y="499">OH</text>
<text x="447" y="357">O</text>
<text x="628" y="359">O</text>
<text x="765" y="320">OH</text>
<text x="852" y="393">OH</text>
<text x="805" y="460">OH</text>
<text x="687" y="413">OH</text>
<text x="675" y="443">O</text>
<text x="497" y="475">O</text>
<text x="588" y="512">O</text>
<text x="460" y="671">NH</text>
<text x="447" y="723">C</text>
<text x="502" y="723">O</text>
<text x="358" y="775">F</text>
<text x="538" y="775">F</text>
<text x="358" y="880">F</text>
<text x="538" y="880">F</text>
<text x="447" y="931">F</text>
</g>
<line x1="311.3" y1="357.9" x2="311.3" y2="530" stroke="#222" stroke-width="2.7"/><polygon points="303.9,529 318.7,529 311.3,543.6" fill="#222"/>
<text x="383" y="431.5" font-family="'Liberation Sans', sans-serif" font-size="27.2" text-anchor="middle" textLength="91.4" lengthAdjust="spacingAndGlyphs">6 hours</text>
<text x="383" y="463" font-family="'Liberation Sans', sans-serif" font-size="27.2" text-anchor="middle" textLength="116.5" lengthAdjust="spacingAndGlyphs">treatment</text>
<g transform="translate(340 560) scale(0.09169 0.09169)" stroke-linejoin="round">
<polygon points="143,165 232,335 240,1320 143,1040" fill="#cbcbcb" stroke="#a2a2a2" stroke-width="3.5"/>
<polygon points="143,165 285,150 405,300 405,325 232,335" fill="#dedede" stroke="#a2a2a2" stroke-width="3.5"/>
<polygon points="232,335 405,325 410,1300 240,1320" fill="#dcdcdc" stroke="#a2a2a2" stroke-width="3.5"/>
<polygon points="1160,100 1280,130 1570,285 1430,255" fill="#e9e9e9" stroke="#a2a2a2" stroke-width="3.5"/>
<polygon points="1430,255 1570,285 1580,700 1440,700" fill="#dedede" stroke="#a2a2a2" stroke-width="3.5"/>
<polygon points="1435,700 1555,710 1555,1130 1580,1180 1435,1195" fill="#b2b2b2" />
<polygon points="1435,705 1500,712 1500,1110 1455,1140 1435,1190" fill="#858585" />
<polygon points="1442,840 1470,840 1470,1000 1442,1000" fill="#a8a8a8" stroke="#6e6e6e" stroke-width="3"/>
<line x1="1442" y1="915" x2="1470" y2="915" stroke="#6e6e6e" stroke-width="4"/>
<polygon points="285,130 1160,100 1430,255 405,300" fill="#ececec" stroke="#a2a2a2" stroke-width="3.5"/>
<polygon points="405,300 1430,255 1435,1190 410,1300" fill="#dcdcdc" stroke="#a2a2a2" stroke-width="3.5"/>
<path d="M240,1205 C400,1140 550,1090 700,1000 C900,880 1100,760 1430,700 L1435,1190 L410,1300 L240,1320 Z" fill="#c8c8c8" stroke="#a0a0a0" stroke-width="4"/>
<line x1="405" y1="300" x2="410" y2="1300" stroke="#a8a8a8" stroke-width="4"/>
<polygon points="425,585 1430,515 1430,610 425,668" fill="#808080" />
<path d="M425,672 L1430,614" stroke="#efefef" stroke-width="6" fill="none"/>
<circle cx="1292" cy="573" r="27" fill="#e2e2e2"/>
</g>
<text x="418.9" y="711" font-family="'Liberation Sans', sans-serif" font-size="27.2" text-anchor="middle" textLength="55.8" lengthAdjust="spacingAndGlyphs">Flow</text>
<text x="418.9" y="742.4" font-family="'Liberation Sans', sans-serif" font-size="27.2" text-anchor="middle" textLength="120.2" lengthAdjust="spacingAndGlyphs">cytometry</text>
<g transform="translate(130 560) scale(0.21204)">
<path d="M113,390 C260,520 420,620 560,625 C650,628 730,600 780,560 C790,660 850,780 995,812 C940,860 940,920 955,1000 C980,1150 1070,1310 1150,1420 C1000,1330 800,1200 640,1120 C500,1055 350,1060 258,1098 C340,1040 380,980 365,900 C340,760 220,560 113,390 Z" fill="#E38683" stroke="#B53A40" stroke-width="8" stroke-linejoin="round"/>
<circle cx="690" cy="890" r="138" fill="#D45C5D"/>
<circle cx="380" cy="677" r="54.5" fill="#95C47E" stroke="#747474" stroke-width="13"/>
<circle cx="380" cy="677" r="54.5" fill="none" stroke="#b4b4b4" stroke-width="3.5"/>
<circle cx="507" cy="737" r="54.5" fill="#95C47E" stroke="#747474" stroke-width="13"/>
<circle cx="507" cy="737" r="54.5" fill="none" stroke="#b4b4b4" stroke-width="3.5"/>
<circle cx="705" cy="685" r="54.5" fill="#95C47E" stroke="#747474" stroke-width="13"/>
<circle cx="705" cy="685" r="54.5" fill="none" stroke="#b4b4b4" stroke-width="3.5"/>
<circle cx="467" cy="920" r="54.5" fill="#95C47E" stroke="#747474" stroke-width="13"/>
<circle cx="467" cy="920" r="54.5" fill="none" stroke="#b4b4b4" stroke-width="3.5"/>
<circle cx="853" cy="1098" r="54.5" fill="#95C47E" stroke="#747474" stroke-width="13"/>
<circle cx="853" cy="1098" r="54.5" fill="none" stroke="#b4b4b4" stroke-width="3.5"/>
</g>
<text x="187.2" y="866.1" font-family="'Liberation Sans', sans-serif" font-size="27.2" text-anchor="middle" font-weight="bold" fill="#57A847" stroke="#57A847" stroke-width="0.5" textLength="132" lengthAdjust="spacingAndGlyphs">Lysosomal</text>
<text x="187.2" y="897" font-family="'Liberation Sans', sans-serif" font-size="27.2" text-anchor="middle" font-weight="bold" fill="#57A847" stroke="#57A847" stroke-width="0.5" textLength="79.1" lengthAdjust="spacingAndGlyphs">GCase</text>
<text x="187.2" y="928" font-family="'Liberation Sans', sans-serif" font-size="27.2" text-anchor="middle" font-weight="bold" fill="#57A847" stroke="#57A847" stroke-width="0.5" textLength="89.4" lengthAdjust="spacingAndGlyphs">activity</text>
</g>
<g>
<text x="71.7" y="1068.4" font-family="'Liberation Sans', sans-serif" font-size="51" text-anchor="start" font-weight="bold" textLength="35.2" lengthAdjust="spacingAndGlyphs">D</text>
<text x="304.6" y="1160.5" font-family="'Liberation Sans', sans-serif" font-size="27.2" text-anchor="middle" textLength="336.5" lengthAdjust="spacingAndGlyphs">EGFP + Nb expressing cells</text>
<g transform="translate(155 1195) scale(0.13753)">
<g transform="translate(15 24)">
<path d="M700,118 C620,170 520,200 440,212 L425,185 C410,240 360,270 315,285 C365,400 310,500 238,578 C340,510 450,470 540,482 L555,515 C525,400 610,250 700,118 Z" fill="#FDE8C8" stroke="#DCAE7A" stroke-width="3.6"/>
<ellipse cx="462" cy="322" rx="63" ry="62" fill="#E6C29B"/>
</g>
<g transform="translate(21 26)">
<path d="M715,82 C850,125 990,170 1060,262 C1100,312 1140,362 1168,397 C1080,342 985,322 920,292 C830,250 800,150 715,82 Z" fill="#FDE8C8" stroke="#DCAE7A" stroke-width="3.6"/>
<ellipse cx="960" cy="233" rx="46" ry="35" fill="#E6C29B" transform="rotate(25 960 233)"/>
</g>
<g transform="translate(27 30)">
<path d="M1162,155 C1220,210 1290,250 1350,255 C1390,250 1420,240 1430,222 C1435,270 1470,310 1518,322 C1490,350 1500,400 1520,450 C1535,500 1560,540 1580,572 C1500,520 1420,470 1340,445 C1290,430 1250,430 1218,440 C1260,400 1270,330 1240,260 C1220,220 1190,180 1162,155 Z" fill="#7FC07C" stroke="#4E9E52" stroke-width="3.6"/>
<ellipse cx="1393" cy="355" rx="55" ry="57" fill="#4CA750"/>
</g>
<g transform="translate(18 30)">
<path d="M923,430 A133,131 0 1 1 657,430 A133,131 0 1 1 923,430 Z" fill="#7FC07C" stroke="#4E9E52" stroke-width="3.6"/>
<ellipse cx="770" cy="447" rx="57" ry="57" fill="#4CA750"/>
</g>
<g transform="translate(25 20)">
<path d="M815,672 C900,650 980,590 1040,510 C1050,495 1058,485 1060,478 C1100,500 1170,495 1205,462 C1240,530 1350,570 1468,565 C1350,610 1220,680 1150,740 C1130,760 1118,780 1115,800 C1100,740 1040,700 960,685 C910,675 860,672 815,672 Z" fill="#90C190" stroke="#68A86C" stroke-width="3.6"/>
<ellipse cx="1153" cy="592" rx="62" ry="63" fill="#6BAA6E"/>
</g>
<g transform="translate(10 19)">
<path d="M162,662 C280,630 380,580 460,582 C540,585 640,630 718,652 C640,670 540,715 450,715 C360,715 260,680 162,662 Z" fill="#7FC07C" stroke="#4E9E52" stroke-width="3.6"/>
<ellipse cx="453" cy="641" rx="48" ry="32" fill="#4CA750"/>
</g>
<g transform="translate(30 37)">
<path d="M1635,640 C1500,660 1380,690 1300,750 C1240,800 1190,850 1130,885 C1230,860 1340,850 1420,810 C1500,770 1570,690 1635,640 Z" fill="#FDE8C8" stroke="#DCAE7A" stroke-width="3.6"/>
<ellipse cx="1388" cy="740" rx="50" ry="34" fill="#E6C29B" transform="rotate(-20 1388 740)"/>
</g>
<g transform="translate(6 25)">
<path d="M367,872 A135,131 0 1 1 97,872 A135,131 0 1 1 367,872 Z" fill="#FDE8C8" stroke="#DCAE7A" stroke-width="3.6"/>
<ellipse cx="213" cy="890" rx="57" ry="57" fill="#E6C29B"/>
</g>
<g transform="translate(14 37)">
<path d="M825,743 C750,780 670,790 590,787 L575,760 C560,800 510,820 460,825 C500,900 430,1010 343,1075 C430,1030 530,1010 600,1025 L628,1068 C620,960 740,840 825,743 Z" fill="#FDE8C8" stroke="#DCAE7A" stroke-width="3.6"/>
<ellipse cx="583" cy="882" rx="57" ry="55" fill="#E6C29B"/>
</g>
<g transform="translate(18 38)">
<path d="M925,815 C960,815 990,850 1020,910 C1050,970 1055,1022 1010,1022 L840,1022 C790,1022 795,975 820,920 C850,850 890,815 925,815 Z" fill="#7FC07C" stroke="#4E9E52" stroke-width="3.6"/>
<ellipse cx="923" cy="953" rx="45" ry="45" fill="#4CA750"/>
</g>
<g transform="translate(24 70)">
<path d="M840,1168 C950,1120 1050,1060 1110,990 C1125,965 1130,940 1130,915 C1160,980 1280,1020 1422,992 C1330,1040 1250,1100 1225,1205 C1190,1180 1130,1190 1095,1235 C1080,1190 1000,1160 840,1168 Z" fill="#FDE8C8" stroke="#DCAE7A" stroke-width="3.6"/>
<ellipse cx="1122" cy="1103" rx="57" ry="57" fill="#E6C29B"/>
</g>
<g transform="translate(-15 70)">
<path d="M315,1118 C420,1100 540,1090 620,1110 C720,1140 800,1200 862,1232 C760,1225 660,1240 580,1220 C480,1195 400,1140 315,1118 Z" fill="#7FC07C" stroke="#4E9E52" stroke-width="3.6"/>
<ellipse cx="607" cy="1160" rx="50" ry="33" fill="#4CA750" transform="rotate(15 607 1160)"/>
</g>
</g>
<text x="140" y="1445.2" font-family="'Liberation Sans', sans-serif" font-size="27.2" text-anchor="middle" font-weight="bold" fill="#C23B33" stroke="#C23B33" stroke-width="0.5" textLength="99.5" lengthAdjust="spacingAndGlyphs">DQ-BSA</text>
<circle cx="214.41" cy="1519.71" r="13" fill="url(#gglow)"/>
<circle cx="151.38" cy="1541.03" r="13" fill="url(#gglow)"/>
<circle cx="238.02" cy="1449.8" r="5.7" fill="url(#bead)" stroke="#1f7f78" stroke-width="0.6"/>
<circle cx="235.96" cy="1461.49" r="5.7" fill="url(#bead)" stroke="#1f7f78" stroke-width="0.6"/>
<circle cx="232.75" cy="1472.72" r="5.7" fill="url(#bead)" stroke="#1f7f78" stroke-width="0.6"/>
<circle cx="228.17" cy="1483.72" r="5.7" fill="url(#bead)" stroke="#1f7f78" stroke-width="0.6"/>
<circle cx="222.66" cy="1494.04" r="5.7" fill="url(#bead)" stroke="#1f7f78" stroke-width="0.6"/>
<circle cx="215.56" cy="1503.21" r="5.7" fill="url(#bead)" stroke="#1f7f78" stroke-width="0.6"/>
<circle cx="207.08" cy="1511.23" r="5.7" fill="url(#bead)" stroke="#1f7f78" stroke-width="0.6"/>
<circle cx="197.91" cy="1518.57" r="5.7" fill="url(#bead)" stroke="#1f7f78" stroke-width="0.6"/>
<circle cx="188.28" cy="1525.9" r="5.7" fill="url(#bead)" stroke="#1f7f78" stroke-width="0.6"/>
<circle cx="179.11" cy="1533.01" r="5.7" fill="url(#bead)" stroke="#1f7f78" stroke-width="0.6"/>
<circle cx="170.86" cy="1541.03" r="5.7" fill="url(#bead)" stroke="#1f7f78" stroke-width="0.6"/>
<circle cx="163.52" cy="1550.66" r="5.7" fill="url(#bead)" stroke="#1f7f78" stroke-width="0.6"/>
<circle cx="157.79" cy="1560.97" r="5.7" fill="url(#bead)" stroke="#1f7f78" stroke-width="0.6"/>
<circle cx="153.67" cy="1571.98" r="5.7" fill="url(#bead)" stroke="#1f7f78" stroke-width="0.6"/>
<circle cx="150.69" cy="1583.44" r="5.7" fill="url(#bead)" stroke="#1f7f78" stroke-width="0.6"/>
<circle cx="147.94" cy="1594.9" r="5.7" fill="url(#bead)" stroke="#1f7f78" stroke-width="0.6"/>
<circle cx="146.56" cy="1606.59" r="5.7" fill="url(#bead)" stroke="#1f7f78" stroke-width="0.6"/>
<circle cx="210.29" cy="1515.82" r="9" fill="url(#gglow)" opacity="0.55"/>
<line x1="277" y1="1418.9" x2="277" y2="1591.6" stroke="#222" stroke-width="2.7"/><polygon points="269.6,1590.6 284.4,1590.6 277,1605.2" fill="#222"/>
<text x="373.3" y="1468.8" font-family="'Liberation Sans', sans-serif" font-size="27.2" text-anchor="middle" textLength="134.1" lengthAdjust="spacingAndGlyphs">30 minutes</text>
<text x="373.3" y="1500.1" font-family="'Liberation Sans', sans-serif" font-size="27.2" text-anchor="middle" textLength="117.4" lengthAdjust="spacingAndGlyphs">treatment</text>
<text x="373.3" y="1531.4" font-family="'Liberation Sans', sans-serif" font-size="27.2" text-anchor="middle" textLength="114.6" lengthAdjust="spacingAndGlyphs">+ 2 hours</text>
<text x="373.3" y="1562.7" font-family="'Liberation Sans', sans-serif" font-size="27.2" text-anchor="middle" textLength="124.9" lengthAdjust="spacingAndGlyphs">incubation</text>
<circle cx="178.91" cy="1701.43" r="15.5" fill="url(#rglow)"/>
<circle cx="240.34" cy="1751.17" r="15.5" fill="url(#rglow)"/>
<circle cx="202.75" cy="1671.63" r="5.7" fill="url(#bead)" stroke="#1f7f78" stroke-width="0.6"/>
<circle cx="202.75" cy="1683.09" r="5.7" fill="url(#bead)" stroke="#1f7f78" stroke-width="0.6"/>
<circle cx="200.23" cy="1694.56" r="5.7" fill="url(#bead)" stroke="#1f7f78" stroke-width="0.6"/>
<circle cx="195.19" cy="1705.33" r="5.7" fill="url(#bead)" stroke="#1f7f78" stroke-width="0.6"/>
<circle cx="187.16" cy="1714.04" r="5.7" fill="url(#bead)" stroke="#1f7f78" stroke-width="0.6"/>
<circle cx="178.22" cy="1721.38" r="5.7" fill="url(#bead)" stroke="#1f7f78" stroke-width="0.6"/>
<circle cx="168.37" cy="1728.25" r="5.7" fill="url(#bead)" stroke="#1f7f78" stroke-width="0.6"/>
<circle cx="158.28" cy="1733.98" r="5.7" fill="url(#bead)" stroke="#1f7f78" stroke-width="0.6"/>
<circle cx="147.51" cy="1735.13" r="5.7" fill="url(#bead)" stroke="#1f7f78" stroke-width="0.6"/>
<circle cx="149.8" cy="1723.67" r="5.7" fill="url(#bead)" stroke="#1f7f78" stroke-width="0.6"/>
<circle cx="258.68" cy="1689.28" r="5.7" fill="url(#bead)" stroke="#1f7f78" stroke-width="0.6"/>
<circle cx="258.22" cy="1701.2" r="5.7" fill="url(#bead)" stroke="#1f7f78" stroke-width="0.6"/>
<circle cx="255.93" cy="1712.89" r="5.7" fill="url(#bead)" stroke="#1f7f78" stroke-width="0.6"/>
<circle cx="250.66" cy="1723.21" r="5.7" fill="url(#bead)" stroke="#1f7f78" stroke-width="0.6"/>
<circle cx="243.32" cy="1732.38" r="5.7" fill="url(#bead)" stroke="#1f7f78" stroke-width="0.6"/>
<circle cx="234.15" cy="1739.71" r="5.7" fill="url(#bead)" stroke="#1f7f78" stroke-width="0.6"/>
<circle cx="224.3" cy="1746.13" r="5.7" fill="url(#bead)" stroke="#1f7f78" stroke-width="0.6"/>
<circle cx="213.98" cy="1751.86" r="5.7" fill="url(#bead)" stroke="#1f7f78" stroke-width="0.6"/>
<circle cx="203.9" cy="1753.47" r="5.7" fill="url(#bead)" stroke="#1f7f78" stroke-width="0.6"/>
<circle cx="205.96" cy="1742.01" r="5.7" fill="url(#bead)" stroke="#1f7f78" stroke-width="0.6"/>
<g transform="translate(353.3 1639) scale(0.08766 0.08876)" stroke-linejoin="round">
<polygon points="143,165 232,335 240,1320 143,1040" fill="#cbcbcb" stroke="#a2a2a2" stroke-width="3.5"/>
<polygon points="143,165 285,150 405,300 405,325 232,335" fill="#dedede" stroke="#a2a2a2" stroke-width="3.5"/>
<polygon points="232,335 405,325 410,1300 240,1320" fill="#dcdcdc" stroke="#a2a2a2" stroke-width="3.5"/>
<polygon points="1160,100 1280,130 1570,285 1430,255" fill="#e9e9e9" stroke="#a2a2a2" stroke-width="3.5"/>
<polygon points="1430,255 1570,285 1580,700 1440,700" fill="#dedede" stroke="#a2a2a2" stroke-width="3.5"/>
<polygon points="1435,700 1555,710 1555,1130 1580,1180 1435,1195" fill="#b2b2b2" />
<polygon points="1435,705 1500,712 1500,1110 1455,1140 1435,1190" fill="#858585" />
<polygon points="1442,840 1470,840 1470,1000 1442,1000" fill="#a8a8a8" stroke="#6e6e6e" stroke-width="3"/>
<line x1="1442" y1="915" x2="1470" y2="915" stroke="#6e6e6e" stroke-width="4"/>
<polygon points="285,130 1160,100 1430,255 405,300" fill="#ececec" stroke="#a2a2a2" stroke-width="3.5"/>
<polygon points="405,300 1430,255 1435,1190 410,1300" fill="#dcdcdc" stroke="#a2a2a2" stroke-width="3.5"/>
<path d="M240,1205 C400,1140 550,1090 700,1000 C900,880 1100,760 1430,700 L1435,1190 L410,1300 L240,1320 Z" fill="#c8c8c8" stroke="#a0a0a0" stroke-width="4"/>
<line x1="405" y1="300" x2="410" y2="1300" stroke="#a8a8a8" stroke-width="4"/>
<polygon points="425,585 1430,515 1430,610 425,668" fill="#808080" />
<path d="M425,672 L1430,614" stroke="#efefef" stroke-width="6" fill="none"/>
<circle cx="1292" cy="573" r="27" fill="#e2e2e2"/>
</g>
<text x="429.3" y="1783.3" font-family="'Liberation Sans', sans-serif" font-size="27.2" text-anchor="middle" textLength="55.9" lengthAdjust="spacingAndGlyphs">Flow</text>
<text x="429.3" y="1815.4" font-family="'Liberation Sans', sans-serif" font-size="27.2" text-anchor="middle" textLength="120.8" lengthAdjust="spacingAndGlyphs">cytometry</text>
<g transform="translate(138 1679.2) scale(0.21204)">
<path d="M113,390 C260,520 420,620 560,625 C650,628 730,600 780,560 C790,660 850,780 995,812 C940,860 940,920 955,1000 C980,1150 1070,1310 1150,1420 C1000,1330 800,1200 640,1120 C500,1055 350,1060 258,1098 C340,1040 380,980 365,900 C340,760 220,560 113,390 Z" fill="#90C28E" stroke="#3F9442" stroke-width="8" stroke-linejoin="round"/>
<circle cx="690" cy="890" r="138" fill="#6BAA6D"/>
<circle cx="365.9" cy="669.15" r="54.5" fill="#C43A34" stroke="#747474" stroke-width="13"/>
<circle cx="365.9" cy="669.15" r="54.5" fill="none" stroke="#b4b4b4" stroke-width="3.5"/>
<circle cx="491.3" cy="728.6" r="54.5" fill="#C43A34" stroke="#747474" stroke-width="13"/>
<circle cx="491.3" cy="728.6" r="54.5" fill="none" stroke="#b4b4b4" stroke-width="3.5"/>
<circle cx="690.21" cy="676.71" r="54.5" fill="#C43A34" stroke="#747474" stroke-width="13"/>
<circle cx="690.21" cy="676.71" r="54.5" fill="none" stroke="#b4b4b4" stroke-width="3.5"/>
<circle cx="452.38" cy="914.54" r="54.5" fill="#C43A34" stroke="#747474" stroke-width="13"/>
<circle cx="452.38" cy="914.54" r="54.5" fill="none" stroke="#b4b4b4" stroke-width="3.5"/>
<circle cx="841.56" cy="1044.27" r="54.5" fill="#C43A34" stroke="#747474" stroke-width="13"/>
<circle cx="841.56" cy="1044.27" r="54.5" fill="none" stroke="#b4b4b4" stroke-width="3.5"/>
</g>
<text x="194.8" y="1954.3" font-family="'Liberation Sans', sans-serif" font-size="27.2" text-anchor="middle" font-weight="bold" fill="#C23B33" stroke="#C23B33" stroke-width="0.5" textLength="132" lengthAdjust="spacingAndGlyphs">Lysosomal</text>
<text x="194.8" y="1985.3" font-family="'Liberation Sans', sans-serif" font-size="27.2" text-anchor="middle" font-weight="bold" fill="#C23B33" stroke="#C23B33" stroke-width="0.5" textLength="132.3" lengthAdjust="spacingAndGlyphs">proteolytic</text>
<text x="194.8" y="2016.2" font-family="'Liberation Sans', sans-serif" font-size="27.2" text-anchor="middle" font-weight="bold" fill="#C23B33" stroke="#C23B33" stroke-width="0.5" textLength="88.7" lengthAdjust="spacingAndGlyphs">activity</text>
</g>
</svg></body></html>
